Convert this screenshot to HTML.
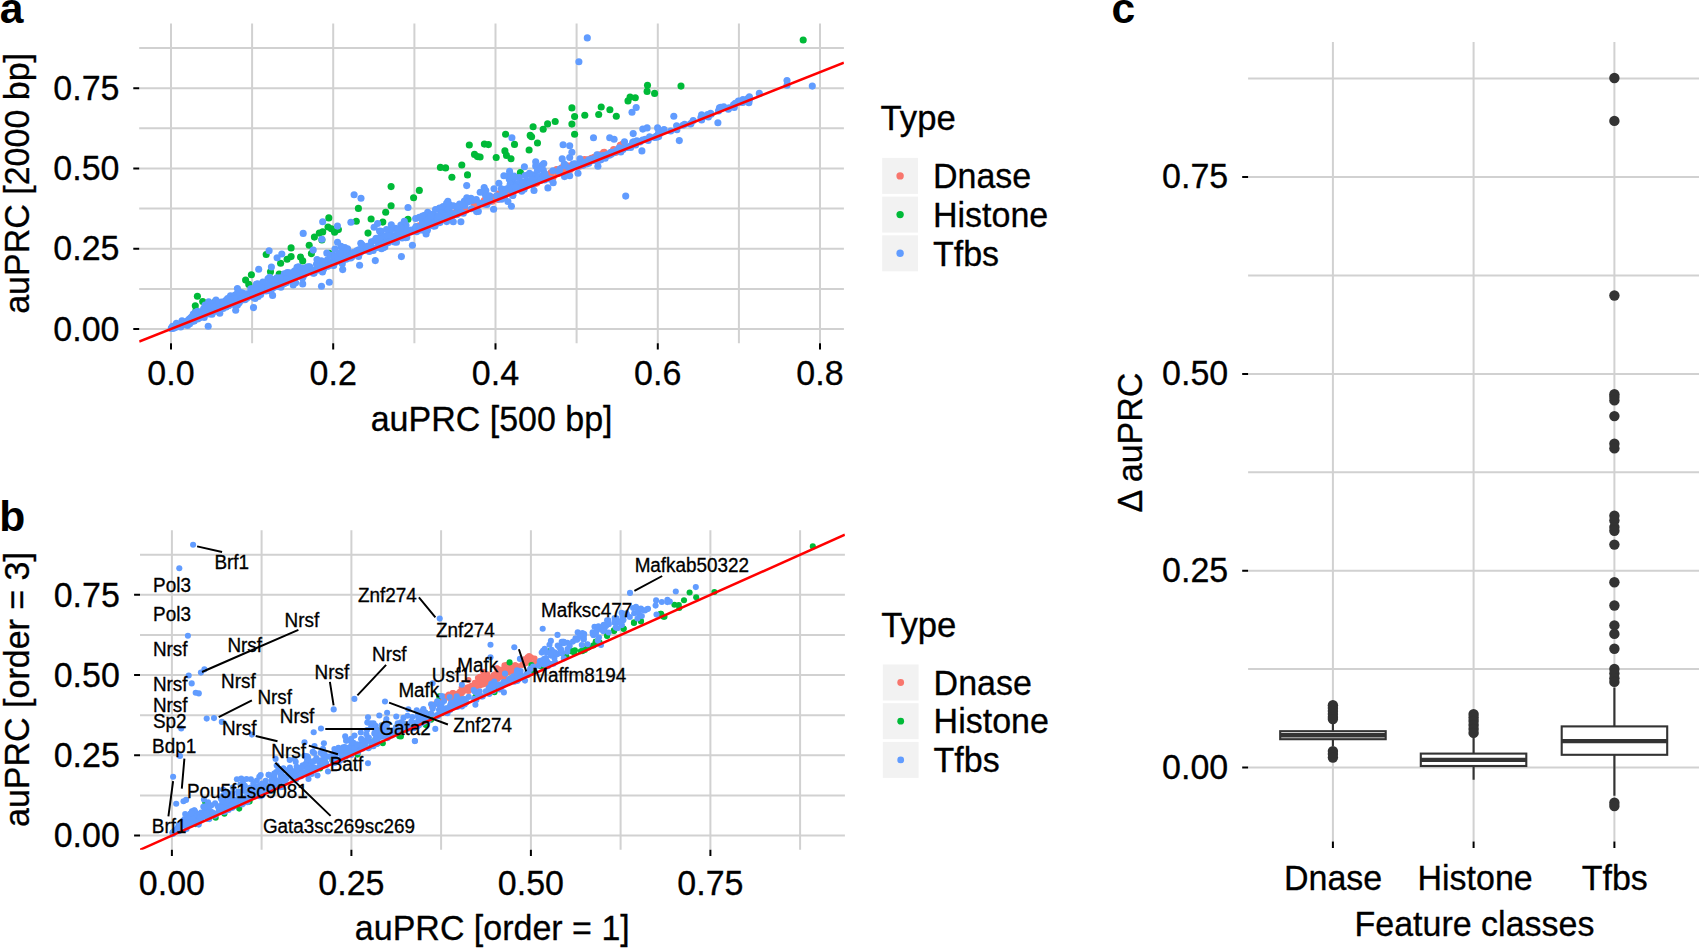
<!DOCTYPE html>
<html lang="en"><head><meta charset="utf-8"><title>Figure</title>
<style>html,body{margin:0;padding:0;background:#fff}svg{display:block}text{stroke:#000;stroke-width:.3px}.pl text{stroke:none}</style></head>
<body>
<svg width="1699" height="948" viewBox="0 0 1699 948" font-family="'Liberation Sans', Arial, Helvetica, sans-serif" font-size="34" fill="#000">
<rect width="1699" height="948" fill="#fff"/>
<path d="M139.2 329H843.9M139.2 288.9H843.9M139.2 248.7H843.9M139.2 208.6H843.9M139.2 168.5H843.9M139.2 128.3H843.9M139.2 88.2H843.9M139.2 48.1H843.9M171 23.6V343.2M252.1 23.6V343.2M333.2 23.6V343.2M414.4 23.6V343.2M495.5 23.6V343.2M576.6 23.6V343.2M657.8 23.6V343.2M738.9 23.6V343.2M820 23.6V343.2" stroke="#d1d1d1" stroke-width="2.0" fill="none"/>
<clipPath id="ca"><rect x="139.2" y="23.6" width="704.7" height="319.6"/></clipPath>
<g clip-path="url(#ca)">
<g fill="#F8766D">
<circle cx="502.7" cy="195.4" r="3.55"/><circle cx="504.4" cy="197.5" r="3.55"/><circle cx="534" cy="180.4" r="3.55"/><circle cx="531.4" cy="181.8" r="3.55"/><circle cx="561.9" cy="167.9" r="3.55"/><circle cx="567.1" cy="165.8" r="3.55"/><circle cx="556.6" cy="169.6" r="3.55"/><circle cx="572.3" cy="164.7" r="3.55"/><circle cx="588" cy="160" r="3.55"/><circle cx="591.4" cy="158.3" r="3.55"/><circle cx="603.6" cy="152.6" r="3.55"/><circle cx="621" cy="145.2" r="3.55"/><circle cx="546.7" cy="175.2" r="3.55"/><circle cx="498" cy="196.6" r="3.55"/><circle cx="620.3" cy="145.2" r="3.55"/><circle cx="475.5" cy="204.2" r="3.55"/><circle cx="444.8" cy="216.3" r="3.55"/><circle cx="586.5" cy="160.3" r="3.55"/><circle cx="452.5" cy="215.7" r="3.55"/><circle cx="492.9" cy="199" r="3.55"/><circle cx="529.9" cy="183" r="3.55"/><circle cx="457.8" cy="211.8" r="3.55"/><circle cx="557.9" cy="173.4" r="3.55"/><circle cx="537.9" cy="179.8" r="3.55"/><circle cx="510" cy="192" r="3.55"/><circle cx="561.8" cy="168.6" r="3.55"/><circle cx="465.9" cy="210.2" r="3.55"/><circle cx="599" cy="156.8" r="3.55"/><circle cx="568.2" cy="169.1" r="3.55"/><circle cx="439.3" cy="215.8" r="3.55"/><circle cx="502.6" cy="194.2" r="3.55"/><circle cx="517.5" cy="189.1" r="3.55"/><circle cx="422.6" cy="226.9" r="3.55"/><circle cx="535.2" cy="183.2" r="3.55"/><circle cx="599" cy="156.8" r="3.55"/><circle cx="539.7" cy="177.7" r="3.55"/><circle cx="536.7" cy="183.1" r="3.55"/><circle cx="613.6" cy="149.6" r="3.55"/><circle cx="514.4" cy="189.8" r="3.55"/><circle cx="562.3" cy="171" r="3.55"/><circle cx="550.9" cy="172.7" r="3.55"/><circle cx="474.4" cy="205.5" r="3.55"/><circle cx="495.7" cy="197.1" r="3.55"/><circle cx="511.8" cy="190.8" r="3.55"/><circle cx="449.8" cy="214.8" r="3.55"/><circle cx="576.4" cy="164.7" r="3.55"/><circle cx="441.7" cy="218.3" r="3.55"/><circle cx="598.2" cy="155.1" r="3.55"/><circle cx="431.4" cy="224" r="3.55"/><circle cx="600.7" cy="154.9" r="3.55"/><circle cx="587.2" cy="160.1" r="3.55"/><circle cx="502" cy="195.3" r="3.55"/><circle cx="490" cy="196.8" r="3.55"/><circle cx="446.2" cy="218.7" r="3.55"/><circle cx="451.5" cy="214.3" r="3.55"/><circle cx="516.7" cy="187.7" r="3.55"/><circle cx="538.6" cy="180" r="3.55"/><circle cx="502.7" cy="194.1" r="3.55"/><circle cx="492.3" cy="201.2" r="3.55"/><circle cx="560" cy="172.8" r="3.55"/><circle cx="523.1" cy="187.5" r="3.55"/><circle cx="425.8" cy="225.9" r="3.55"/><circle cx="604.1" cy="153.6" r="3.55"/><circle cx="582.7" cy="165.1" r="3.55"/><circle cx="497.1" cy="196.9" r="3.55"/><circle cx="548.2" cy="175.8" r="3.55"/><circle cx="427.5" cy="223.1" r="3.55"/><circle cx="448.6" cy="215.2" r="3.55"/><circle cx="486.1" cy="200.7" r="3.55"/><circle cx="446.3" cy="216.5" r="3.55"/><circle cx="435.8" cy="220.9" r="3.55"/><circle cx="598.8" cy="155.9" r="3.55"/><circle cx="543.9" cy="177.3" r="3.55"/><circle cx="487.6" cy="199.4" r="3.55"/><circle cx="491.2" cy="197" r="3.55"/><circle cx="623.8" cy="144.5" r="3.55"/><circle cx="512.7" cy="190.8" r="3.55"/><circle cx="435.9" cy="220.6" r="3.55"/><circle cx="486.6" cy="200.8" r="3.55"/><circle cx="448.4" cy="213.3" r="3.55"/><circle cx="419.2" cy="225.7" r="3.55"/><circle cx="445.3" cy="217.4" r="3.55"/><circle cx="528.9" cy="182.3" r="3.55"/><circle cx="620.8" cy="147.2" r="3.55"/><circle cx="596.5" cy="157.4" r="3.55"/><circle cx="491.7" cy="199.5" r="3.55"/><circle cx="449.6" cy="215" r="3.55"/><circle cx="578.7" cy="165.7" r="3.55"/><circle cx="483.9" cy="201.2" r="3.55"/><circle cx="622.1" cy="144.6" r="3.55"/><circle cx="594.2" cy="157.2" r="3.55"/><circle cx="570.4" cy="169.6" r="3.55"/><circle cx="462.2" cy="211.4" r="3.55"/><circle cx="420.5" cy="226.9" r="3.55"/><circle cx="420.3" cy="227" r="3.55"/><circle cx="560.4" cy="170.4" r="3.55"/><circle cx="616.1" cy="152.2" r="3.55"/><circle cx="622.8" cy="145.7" r="3.55"/><circle cx="615.8" cy="150" r="3.55"/><circle cx="462.2" cy="209.5" r="3.55"/><circle cx="455.9" cy="212.2" r="3.55"/><circle cx="604.3" cy="152.3" r="3.55"/><circle cx="591.6" cy="160.8" r="3.55"/><circle cx="583" cy="162.2" r="3.55"/><circle cx="432.3" cy="223.6" r="3.55"/><circle cx="579.4" cy="166.2" r="3.55"/><circle cx="572.6" cy="167.3" r="3.55"/><circle cx="580.8" cy="163.2" r="3.55"/><circle cx="484.5" cy="200.3" r="3.55"/><circle cx="497.9" cy="199.4" r="3.55"/><circle cx="499" cy="193.7" r="3.55"/><circle cx="450.2" cy="215.6" r="3.55"/><circle cx="441.2" cy="216.9" r="3.55"/><circle cx="584.5" cy="159.6" r="3.55"/><circle cx="445.2" cy="215.3" r="3.55"/><circle cx="553" cy="177.5" r="3.55"/><circle cx="488.3" cy="200.5" r="3.55"/><circle cx="417.4" cy="228.2" r="3.55"/><circle cx="619.2" cy="149" r="3.55"/><circle cx="611.3" cy="152.5" r="3.55"/><circle cx="505.9" cy="191.3" r="3.55"/><circle cx="458.9" cy="213.3" r="3.55"/>
</g>
<g fill="#00BA38">
<circle cx="197.4" cy="296.3" r="3.55"/><circle cx="202.7" cy="301.5" r="3.55"/><circle cx="195.3" cy="305.7" r="3.55"/><circle cx="215.7" cy="301" r="3.55"/><circle cx="205.3" cy="306.2" r="3.55"/><circle cx="196" cy="310.5" r="3.55"/><circle cx="245.6" cy="280.1" r="3.55"/><circle cx="251.4" cy="274.8" r="3.55"/><circle cx="248.8" cy="284.4" r="3.55"/><circle cx="266.2" cy="254.5" r="3.55"/><circle cx="270.5" cy="271.7" r="3.55"/><circle cx="279.2" cy="274" r="3.55"/><circle cx="280.6" cy="263.2" r="3.55"/><circle cx="287.1" cy="259.2" r="3.55"/><circle cx="291.1" cy="256.6" r="3.55"/><circle cx="291.1" cy="247.9" r="3.55"/><circle cx="300.5" cy="257.1" r="3.55"/><circle cx="302.7" cy="260.9" r="3.55"/><circle cx="309.2" cy="245.3" r="3.55"/><circle cx="311.4" cy="253.6" r="3.55"/><circle cx="314.4" cy="237.1" r="3.55"/><circle cx="319.3" cy="233.1" r="3.55"/><circle cx="322.7" cy="231.9" r="3.55"/><circle cx="321.9" cy="240" r="3.55"/><circle cx="328" cy="227" r="3.55"/><circle cx="328.8" cy="217.9" r="3.55"/><circle cx="331.4" cy="228.7" r="3.55"/><circle cx="334.6" cy="232.2" r="3.55"/><circle cx="338.4" cy="229.6" r="3.55"/><circle cx="329.2" cy="253.4" r="3.55"/><circle cx="341" cy="254" r="3.55"/><circle cx="356.3" cy="221.2" r="3.55"/><circle cx="358.4" cy="208.4" r="3.55"/><circle cx="368" cy="233.1" r="3.55"/><circle cx="371.1" cy="219" r="3.55"/><circle cx="382.8" cy="222.1" r="3.55"/><circle cx="385.7" cy="212.2" r="3.55"/><circle cx="391.1" cy="205.8" r="3.55"/><circle cx="391.1" cy="186.6" r="3.55"/><circle cx="413.6" cy="197.8" r="3.55"/><circle cx="408" cy="219.2" r="3.55"/><circle cx="419.3" cy="190.4" r="3.55"/><circle cx="440.4" cy="167.4" r="3.55"/><circle cx="445.6" cy="167.9" r="3.55"/><circle cx="451.9" cy="177.2" r="3.55"/><circle cx="461.8" cy="165" r="3.55"/><circle cx="467.5" cy="174.9" r="3.55"/><circle cx="469.3" cy="145" r="3.55"/><circle cx="474.5" cy="154.4" r="3.55"/><circle cx="477.4" cy="156.6" r="3.55"/><circle cx="480.1" cy="157" r="3.55"/><circle cx="484.4" cy="144.1" r="3.55"/><circle cx="488.4" cy="144.6" r="3.55"/><circle cx="496.2" cy="157.5" r="3.55"/><circle cx="504.9" cy="150.9" r="3.55"/><circle cx="506.5" cy="155.4" r="3.55"/><circle cx="511" cy="158.7" r="3.55"/><circle cx="505.6" cy="134.3" r="3.55"/><circle cx="514.5" cy="144.4" r="3.55"/><circle cx="520.4" cy="172.6" r="3.55"/><circle cx="529.1" cy="150" r="3.55"/><circle cx="530.2" cy="135.4" r="3.55"/><circle cx="531.6" cy="136.8" r="3.55"/><circle cx="533.1" cy="126.7" r="3.55"/><circle cx="537.5" cy="143" r="3.55"/><circle cx="543.2" cy="129.3" r="3.55"/><circle cx="547.6" cy="123.9" r="3.55"/><circle cx="555.2" cy="121.5" r="3.55"/><circle cx="571.9" cy="107.9" r="3.55"/><circle cx="574.6" cy="116.6" r="3.55"/><circle cx="571.9" cy="124.1" r="3.55"/><circle cx="574.6" cy="134.3" r="3.55"/><circle cx="584.8" cy="115.2" r="3.55"/><circle cx="598.7" cy="114.5" r="3.55"/><circle cx="601.2" cy="107" r="3.55"/><circle cx="609.9" cy="109.8" r="3.55"/><circle cx="616.3" cy="116.2" r="3.55"/><circle cx="628" cy="100.9" r="3.55"/><circle cx="630.1" cy="97.1" r="3.55"/><circle cx="635.3" cy="97.8" r="3.55"/><circle cx="647.5" cy="85.3" r="3.55"/><circle cx="647.1" cy="91.4" r="3.55"/><circle cx="654.6" cy="93.4" r="3.55"/><circle cx="803.2" cy="40" r="3.55"/><circle cx="681" cy="86.1" r="3.55"/><circle cx="208" cy="313.1" r="3.55"/><circle cx="237.2" cy="301" r="3.55"/><circle cx="226.9" cy="303.7" r="3.55"/><circle cx="184.3" cy="322.8" r="3.55"/><circle cx="182.5" cy="323.7" r="3.55"/><circle cx="185.3" cy="322.9" r="3.55"/><circle cx="217" cy="306.1" r="3.55"/><circle cx="190.2" cy="320.6" r="3.55"/>
</g>
<g fill="#619CFF">
<circle cx="191.4" cy="321.6" r="3.55"/><circle cx="244.8" cy="297.5" r="3.55"/><circle cx="205.1" cy="305" r="3.55"/><circle cx="235.8" cy="303.6" r="3.55"/><circle cx="197.4" cy="316.7" r="3.55"/><circle cx="212.2" cy="306.7" r="3.55"/><circle cx="212.5" cy="304.7" r="3.55"/><circle cx="242.1" cy="292.9" r="3.55"/><circle cx="176.9" cy="325.1" r="3.55"/><circle cx="249.5" cy="294" r="3.55"/><circle cx="251.3" cy="293.6" r="3.55"/><circle cx="172.6" cy="326.4" r="3.55"/><circle cx="221.6" cy="302.8" r="3.55"/><circle cx="181.5" cy="324" r="3.55"/><circle cx="217.3" cy="309.5" r="3.55"/><circle cx="236" cy="301.8" r="3.55"/><circle cx="207.8" cy="309.1" r="3.55"/><circle cx="184.1" cy="324.2" r="3.55"/><circle cx="232.6" cy="299.3" r="3.55"/><circle cx="172.2" cy="327.2" r="3.55"/><circle cx="246.8" cy="298.3" r="3.55"/><circle cx="212.1" cy="306.7" r="3.55"/><circle cx="228.3" cy="299.1" r="3.55"/><circle cx="231.1" cy="299.4" r="3.55"/><circle cx="241.6" cy="293.3" r="3.55"/><circle cx="207.2" cy="311.6" r="3.55"/><circle cx="196.1" cy="317.9" r="3.55"/><circle cx="192.4" cy="321.2" r="3.55"/><circle cx="218.5" cy="306.2" r="3.55"/><circle cx="197.5" cy="311.2" r="3.55"/><circle cx="243.4" cy="293.6" r="3.55"/><circle cx="238" cy="301.2" r="3.55"/><circle cx="189.7" cy="323.7" r="3.55"/><circle cx="226.2" cy="307" r="3.55"/><circle cx="211.8" cy="303.8" r="3.55"/><circle cx="192.5" cy="316.2" r="3.55"/><circle cx="209.9" cy="307.9" r="3.55"/><circle cx="191.6" cy="317.3" r="3.55"/><circle cx="175.9" cy="327.3" r="3.55"/><circle cx="208.7" cy="301.9" r="3.55"/><circle cx="237.5" cy="305.1" r="3.55"/><circle cx="181.8" cy="325.3" r="3.55"/><circle cx="171.3" cy="328.3" r="3.55"/><circle cx="239.2" cy="302.8" r="3.55"/><circle cx="252" cy="290.4" r="3.55"/><circle cx="238.7" cy="298.6" r="3.55"/><circle cx="212.5" cy="310.3" r="3.55"/><circle cx="215.6" cy="308.6" r="3.55"/><circle cx="194.2" cy="321" r="3.55"/><circle cx="231" cy="298.9" r="3.55"/><circle cx="184.6" cy="322.3" r="3.55"/><circle cx="182.3" cy="323.6" r="3.55"/><circle cx="217.2" cy="308.3" r="3.55"/><circle cx="193.5" cy="316.6" r="3.55"/><circle cx="203.4" cy="315.3" r="3.55"/><circle cx="228.6" cy="305.5" r="3.55"/><circle cx="249.9" cy="295.1" r="3.55"/><circle cx="229.6" cy="302.9" r="3.55"/><circle cx="174.2" cy="327.3" r="3.55"/><circle cx="176.7" cy="326.1" r="3.55"/><circle cx="219.8" cy="313.2" r="3.55"/><circle cx="209.6" cy="314" r="3.55"/><circle cx="211.4" cy="304.2" r="3.55"/><circle cx="173.8" cy="327.9" r="3.55"/><circle cx="235.7" cy="294.7" r="3.55"/><circle cx="189.7" cy="318.8" r="3.55"/><circle cx="211.2" cy="311.4" r="3.55"/><circle cx="202.9" cy="313.8" r="3.55"/><circle cx="175.9" cy="325.9" r="3.55"/><circle cx="197.7" cy="319" r="3.55"/><circle cx="201.3" cy="312.1" r="3.55"/><circle cx="187.8" cy="320.5" r="3.55"/><circle cx="175" cy="326.2" r="3.55"/><circle cx="236.9" cy="294" r="3.55"/><circle cx="248.7" cy="294.5" r="3.55"/><circle cx="232.3" cy="302.9" r="3.55"/><circle cx="205.9" cy="309.1" r="3.55"/><circle cx="233.7" cy="300.1" r="3.55"/><circle cx="234.5" cy="304.7" r="3.55"/><circle cx="215.8" cy="311.3" r="3.55"/><circle cx="192.5" cy="320.3" r="3.55"/><circle cx="225.7" cy="300.6" r="3.55"/><circle cx="239.2" cy="299.1" r="3.55"/><circle cx="190.9" cy="320.9" r="3.55"/><circle cx="203.1" cy="314.9" r="3.55"/><circle cx="237.4" cy="288.5" r="3.55"/><circle cx="180.7" cy="326.9" r="3.55"/><circle cx="207.4" cy="311.7" r="3.55"/><circle cx="188.7" cy="322.1" r="3.55"/><circle cx="187.5" cy="325.5" r="3.55"/><circle cx="196.3" cy="318" r="3.55"/><circle cx="215.6" cy="301.9" r="3.55"/><circle cx="204.2" cy="317.4" r="3.55"/><circle cx="251.9" cy="294.4" r="3.55"/><circle cx="171.5" cy="328.4" r="3.55"/><circle cx="194" cy="315.2" r="3.55"/><circle cx="236.3" cy="301.7" r="3.55"/><circle cx="221.3" cy="302" r="3.55"/><circle cx="213" cy="307.6" r="3.55"/><circle cx="216.6" cy="307.3" r="3.55"/><circle cx="205.1" cy="312.6" r="3.55"/><circle cx="221.2" cy="307.2" r="3.55"/><circle cx="208.2" cy="311.6" r="3.55"/><circle cx="206.9" cy="311.7" r="3.55"/><circle cx="230.5" cy="295.8" r="3.55"/><circle cx="182" cy="320.8" r="3.55"/><circle cx="186.7" cy="321.6" r="3.55"/><circle cx="193.3" cy="314.1" r="3.55"/><circle cx="212" cy="314.3" r="3.55"/><circle cx="216" cy="300.1" r="3.55"/><circle cx="222.1" cy="305.5" r="3.55"/><circle cx="233" cy="302.7" r="3.55"/><circle cx="218.5" cy="302.7" r="3.55"/><circle cx="243.7" cy="296.8" r="3.55"/><circle cx="189.2" cy="319.4" r="3.55"/><circle cx="247" cy="293.7" r="3.55"/><circle cx="241.7" cy="295.5" r="3.55"/><circle cx="207" cy="306.8" r="3.55"/><circle cx="203.9" cy="310.2" r="3.55"/><circle cx="223" cy="302.2" r="3.55"/><circle cx="234.5" cy="295.5" r="3.55"/><circle cx="179.5" cy="325.6" r="3.55"/><circle cx="228.7" cy="305.5" r="3.55"/><circle cx="223.1" cy="308.4" r="3.55"/><circle cx="231.5" cy="300.1" r="3.55"/><circle cx="227.2" cy="301.7" r="3.55"/><circle cx="227.6" cy="298.6" r="3.55"/><circle cx="244.9" cy="299.8" r="3.55"/><circle cx="173.3" cy="328.3" r="3.55"/><circle cx="218.9" cy="310.1" r="3.55"/><circle cx="176.4" cy="323.4" r="3.55"/><circle cx="236.9" cy="297.8" r="3.55"/><circle cx="179.1" cy="326.1" r="3.55"/><circle cx="191.8" cy="320" r="3.55"/><circle cx="249.2" cy="296.1" r="3.55"/><circle cx="233.7" cy="301.3" r="3.55"/><circle cx="240.9" cy="300.4" r="3.55"/><circle cx="210.8" cy="306.8" r="3.55"/><circle cx="199.2" cy="317.9" r="3.55"/><circle cx="234.9" cy="298.7" r="3.55"/><circle cx="203.6" cy="308.9" r="3.55"/><circle cx="192.4" cy="318.2" r="3.55"/><circle cx="214.1" cy="306.5" r="3.55"/><circle cx="239.4" cy="291.9" r="3.55"/><circle cx="233.7" cy="298.9" r="3.55"/><circle cx="195.5" cy="312.2" r="3.55"/><circle cx="191.1" cy="317.5" r="3.55"/><circle cx="230.1" cy="300" r="3.55"/><circle cx="250.8" cy="288.9" r="3.55"/><circle cx="187.7" cy="322.2" r="3.55"/><circle cx="319.6" cy="266.1" r="3.55"/><circle cx="324.3" cy="262.5" r="3.55"/><circle cx="322.4" cy="264.1" r="3.55"/><circle cx="313.3" cy="273.2" r="3.55"/><circle cx="313.4" cy="272.4" r="3.55"/><circle cx="342.7" cy="260" r="3.55"/><circle cx="299.8" cy="275.9" r="3.55"/><circle cx="308.1" cy="269.6" r="3.55"/><circle cx="332.8" cy="261.2" r="3.55"/><circle cx="348" cy="254.3" r="3.55"/><circle cx="253.4" cy="294.6" r="3.55"/><circle cx="324.3" cy="265.2" r="3.55"/><circle cx="264.7" cy="285.7" r="3.55"/><circle cx="346" cy="259.2" r="3.55"/><circle cx="297.7" cy="274.6" r="3.55"/><circle cx="278.2" cy="280.8" r="3.55"/><circle cx="252.4" cy="288.9" r="3.55"/><circle cx="314.2" cy="270.2" r="3.55"/><circle cx="257.7" cy="288.6" r="3.55"/><circle cx="344.8" cy="247.6" r="3.55"/><circle cx="274.9" cy="286.5" r="3.55"/><circle cx="333.8" cy="265.1" r="3.55"/><circle cx="294.8" cy="273.3" r="3.55"/><circle cx="266.2" cy="286.9" r="3.55"/><circle cx="252.8" cy="289.2" r="3.55"/><circle cx="314.1" cy="272.9" r="3.55"/><circle cx="284.3" cy="273.7" r="3.55"/><circle cx="336" cy="261.5" r="3.55"/><circle cx="272.6" cy="286.3" r="3.55"/><circle cx="291.4" cy="274.1" r="3.55"/><circle cx="315.8" cy="269.6" r="3.55"/><circle cx="322.5" cy="270.6" r="3.55"/><circle cx="340.7" cy="258.1" r="3.55"/><circle cx="272.8" cy="280.1" r="3.55"/><circle cx="327.5" cy="265.9" r="3.55"/><circle cx="293.2" cy="277.9" r="3.55"/><circle cx="257.4" cy="288.4" r="3.55"/><circle cx="295.6" cy="282.7" r="3.55"/><circle cx="347.6" cy="248.8" r="3.55"/><circle cx="253.6" cy="297" r="3.55"/><circle cx="260.7" cy="294.5" r="3.55"/><circle cx="327.5" cy="259.7" r="3.55"/><circle cx="297" cy="267.3" r="3.55"/><circle cx="335.9" cy="258.5" r="3.55"/><circle cx="294.8" cy="277.1" r="3.55"/><circle cx="292.8" cy="279.7" r="3.55"/><circle cx="258" cy="292.6" r="3.55"/><circle cx="338.6" cy="258.5" r="3.55"/><circle cx="330.7" cy="263.9" r="3.55"/><circle cx="333.2" cy="255.4" r="3.55"/><circle cx="335" cy="249.1" r="3.55"/><circle cx="325.2" cy="262.1" r="3.55"/><circle cx="276.9" cy="277.8" r="3.55"/><circle cx="274.8" cy="284.6" r="3.55"/><circle cx="270.5" cy="290.9" r="3.55"/><circle cx="302.5" cy="277.9" r="3.55"/><circle cx="302.7" cy="273.2" r="3.55"/><circle cx="326.8" cy="253.1" r="3.55"/><circle cx="271.7" cy="288.4" r="3.55"/><circle cx="345.5" cy="258.3" r="3.55"/><circle cx="317.3" cy="262.9" r="3.55"/><circle cx="255.9" cy="296.1" r="3.55"/><circle cx="333.6" cy="265.4" r="3.55"/><circle cx="266.2" cy="285" r="3.55"/><circle cx="309.7" cy="266.9" r="3.55"/><circle cx="266.1" cy="291" r="3.55"/><circle cx="336.5" cy="261.6" r="3.55"/><circle cx="298.6" cy="266.9" r="3.55"/><circle cx="321.6" cy="263.3" r="3.55"/><circle cx="284.7" cy="279.7" r="3.55"/><circle cx="263.2" cy="289.8" r="3.55"/><circle cx="348.6" cy="258.1" r="3.55"/><circle cx="347.4" cy="257.7" r="3.55"/><circle cx="303.4" cy="275.9" r="3.55"/><circle cx="269.7" cy="277.2" r="3.55"/><circle cx="300.4" cy="275.4" r="3.55"/><circle cx="331.1" cy="255.3" r="3.55"/><circle cx="257.5" cy="283.9" r="3.55"/><circle cx="340.7" cy="254" r="3.55"/><circle cx="268" cy="278.8" r="3.55"/><circle cx="295.5" cy="275.8" r="3.55"/><circle cx="321.4" cy="260.9" r="3.55"/><circle cx="345" cy="251.5" r="3.55"/><circle cx="273.9" cy="285.5" r="3.55"/><circle cx="255.1" cy="298.5" r="3.55"/><circle cx="262.1" cy="287.1" r="3.55"/><circle cx="291.6" cy="279.8" r="3.55"/><circle cx="343.4" cy="257.4" r="3.55"/><circle cx="290.6" cy="275.2" r="3.55"/><circle cx="341" cy="246.4" r="3.55"/><circle cx="345.4" cy="253.2" r="3.55"/><circle cx="301.3" cy="268.4" r="3.55"/><circle cx="318.2" cy="269.9" r="3.55"/><circle cx="280.1" cy="278.4" r="3.55"/><circle cx="345.2" cy="253.9" r="3.55"/><circle cx="264.9" cy="287.8" r="3.55"/><circle cx="260.7" cy="290.1" r="3.55"/><circle cx="321.3" cy="266.8" r="3.55"/><circle cx="282.4" cy="283.7" r="3.55"/><circle cx="286.5" cy="276.1" r="3.55"/><circle cx="280.9" cy="287.2" r="3.55"/><circle cx="323.7" cy="265.4" r="3.55"/><circle cx="286.4" cy="282.3" r="3.55"/><circle cx="324.5" cy="262.5" r="3.55"/><circle cx="341.2" cy="252" r="3.55"/><circle cx="345.8" cy="257.3" r="3.55"/><circle cx="311.2" cy="270.3" r="3.55"/><circle cx="306.2" cy="272.9" r="3.55"/><circle cx="300.8" cy="273.6" r="3.55"/><circle cx="260.7" cy="284.2" r="3.55"/><circle cx="253.2" cy="297.2" r="3.55"/><circle cx="349.3" cy="256.4" r="3.55"/><circle cx="286.9" cy="278.6" r="3.55"/><circle cx="306.8" cy="267.9" r="3.55"/><circle cx="349.1" cy="253" r="3.55"/><circle cx="262.9" cy="282.1" r="3.55"/><circle cx="301.9" cy="270.1" r="3.55"/><circle cx="348.9" cy="253.6" r="3.55"/><circle cx="252.5" cy="294.7" r="3.55"/><circle cx="306" cy="272.2" r="3.55"/><circle cx="308" cy="266.9" r="3.55"/><circle cx="268.7" cy="286.2" r="3.55"/><circle cx="258.2" cy="296.5" r="3.55"/><circle cx="278.1" cy="286.4" r="3.55"/><circle cx="295.9" cy="274" r="3.55"/><circle cx="335.3" cy="261" r="3.55"/><circle cx="300.4" cy="270.7" r="3.55"/><circle cx="329.3" cy="264.8" r="3.55"/><circle cx="346.7" cy="253.8" r="3.55"/><circle cx="258.5" cy="292.8" r="3.55"/><circle cx="270.7" cy="281.6" r="3.55"/><circle cx="320.8" cy="269" r="3.55"/><circle cx="330.5" cy="265.1" r="3.55"/><circle cx="344.7" cy="254.8" r="3.55"/><circle cx="320.9" cy="268.2" r="3.55"/><circle cx="272.8" cy="280.1" r="3.55"/><circle cx="289.6" cy="272.8" r="3.55"/><circle cx="335" cy="256.3" r="3.55"/><circle cx="287.3" cy="272.5" r="3.55"/><circle cx="321.9" cy="268.9" r="3.55"/><circle cx="338.1" cy="254.8" r="3.55"/><circle cx="276.3" cy="278.7" r="3.55"/><circle cx="323.6" cy="269.1" r="3.55"/><circle cx="282.4" cy="281.6" r="3.55"/><circle cx="321.9" cy="265.7" r="3.55"/><circle cx="327.7" cy="266.2" r="3.55"/><circle cx="272.6" cy="288.3" r="3.55"/><circle cx="260.9" cy="288" r="3.55"/><circle cx="257.4" cy="286.3" r="3.55"/><circle cx="256.4" cy="284.4" r="3.55"/><circle cx="346.5" cy="250.5" r="3.55"/><circle cx="271.7" cy="287" r="3.55"/><circle cx="275.3" cy="286.7" r="3.55"/><circle cx="338.2" cy="260.4" r="3.55"/><circle cx="305.5" cy="267.9" r="3.55"/><circle cx="280.3" cy="277.8" r="3.55"/><circle cx="271.3" cy="279.4" r="3.55"/><circle cx="268.5" cy="288.5" r="3.55"/><circle cx="294.4" cy="271.1" r="3.55"/><circle cx="343.2" cy="252.3" r="3.55"/><circle cx="254.8" cy="287.8" r="3.55"/><circle cx="342.3" cy="263.8" r="3.55"/><circle cx="283.9" cy="283.8" r="3.55"/><circle cx="333.1" cy="262.5" r="3.55"/><circle cx="340.2" cy="253" r="3.55"/><circle cx="268.1" cy="285.4" r="3.55"/><circle cx="322.5" cy="272" r="3.55"/><circle cx="316.5" cy="264.3" r="3.55"/><circle cx="317" cy="259.5" r="3.55"/><circle cx="286" cy="282.7" r="3.55"/><circle cx="443.1" cy="206.6" r="3.55"/><circle cx="405.1" cy="227.1" r="3.55"/><circle cx="352.2" cy="256.5" r="3.55"/><circle cx="406" cy="233.1" r="3.55"/><circle cx="360.6" cy="252.3" r="3.55"/><circle cx="358.7" cy="249.7" r="3.55"/><circle cx="371.5" cy="241.9" r="3.55"/><circle cx="356.6" cy="250.8" r="3.55"/><circle cx="423.2" cy="228.2" r="3.55"/><circle cx="404.3" cy="221.3" r="3.55"/><circle cx="370.2" cy="248.9" r="3.55"/><circle cx="404.3" cy="236.5" r="3.55"/><circle cx="415.7" cy="218.5" r="3.55"/><circle cx="427.6" cy="226.6" r="3.55"/><circle cx="368.3" cy="246.2" r="3.55"/><circle cx="427.4" cy="224.4" r="3.55"/><circle cx="386.5" cy="241.8" r="3.55"/><circle cx="350.8" cy="258" r="3.55"/><circle cx="427.4" cy="230.2" r="3.55"/><circle cx="364.9" cy="250.3" r="3.55"/><circle cx="406.8" cy="237.4" r="3.55"/><circle cx="383.9" cy="247" r="3.55"/><circle cx="394.2" cy="239.6" r="3.55"/><circle cx="404.9" cy="230.8" r="3.55"/><circle cx="434.4" cy="215.4" r="3.55"/><circle cx="434.4" cy="220.7" r="3.55"/><circle cx="411.3" cy="230" r="3.55"/><circle cx="445.7" cy="210.1" r="3.55"/><circle cx="383.5" cy="236.9" r="3.55"/><circle cx="379.5" cy="231.1" r="3.55"/><circle cx="406" cy="225.2" r="3.55"/><circle cx="351.7" cy="256.4" r="3.55"/><circle cx="388.4" cy="242.6" r="3.55"/><circle cx="443.2" cy="214.7" r="3.55"/><circle cx="382.7" cy="246.8" r="3.55"/><circle cx="370.1" cy="250.6" r="3.55"/><circle cx="415.6" cy="228.8" r="3.55"/><circle cx="397.6" cy="232.6" r="3.55"/><circle cx="439.6" cy="208" r="3.55"/><circle cx="358.6" cy="256.5" r="3.55"/><circle cx="401.9" cy="233.2" r="3.55"/><circle cx="374.6" cy="240.5" r="3.55"/><circle cx="424.7" cy="215.4" r="3.55"/><circle cx="384.8" cy="247.1" r="3.55"/><circle cx="441" cy="213.3" r="3.55"/><circle cx="352.3" cy="253.6" r="3.55"/><circle cx="381" cy="235.6" r="3.55"/><circle cx="410.5" cy="232" r="3.55"/><circle cx="372" cy="247.7" r="3.55"/><circle cx="404.9" cy="236.6" r="3.55"/><circle cx="377" cy="247.4" r="3.55"/><circle cx="435.4" cy="220.9" r="3.55"/><circle cx="433.5" cy="219.5" r="3.55"/><circle cx="438.9" cy="208.9" r="3.55"/><circle cx="416.6" cy="231.7" r="3.55"/><circle cx="445.9" cy="211.5" r="3.55"/><circle cx="362.7" cy="250.4" r="3.55"/><circle cx="360.4" cy="249.5" r="3.55"/><circle cx="435.5" cy="209.5" r="3.55"/><circle cx="399" cy="235.7" r="3.55"/><circle cx="402.4" cy="233.7" r="3.55"/><circle cx="444.2" cy="214.1" r="3.55"/><circle cx="446.7" cy="221.6" r="3.55"/><circle cx="360.8" cy="243.2" r="3.55"/><circle cx="412.4" cy="231.3" r="3.55"/><circle cx="446.3" cy="219.3" r="3.55"/><circle cx="418.8" cy="228.4" r="3.55"/><circle cx="402.3" cy="231.8" r="3.55"/><circle cx="395.5" cy="228.3" r="3.55"/><circle cx="400.9" cy="225.1" r="3.55"/><circle cx="394.3" cy="236.2" r="3.55"/><circle cx="430.5" cy="220.9" r="3.55"/><circle cx="427.7" cy="212.4" r="3.55"/><circle cx="393.2" cy="237.4" r="3.55"/><circle cx="400.2" cy="234" r="3.55"/><circle cx="405" cy="237.3" r="3.55"/><circle cx="381" cy="238.3" r="3.55"/><circle cx="390.7" cy="230.5" r="3.55"/><circle cx="392.6" cy="237.1" r="3.55"/><circle cx="383.8" cy="241.7" r="3.55"/><circle cx="381.5" cy="248.7" r="3.55"/><circle cx="423.2" cy="230.2" r="3.55"/><circle cx="431.2" cy="220.1" r="3.55"/><circle cx="421.6" cy="228.7" r="3.55"/><circle cx="424.4" cy="229.9" r="3.55"/><circle cx="396.5" cy="242.2" r="3.55"/><circle cx="446.6" cy="203.3" r="3.55"/><circle cx="445.7" cy="215.7" r="3.55"/><circle cx="433.1" cy="218.3" r="3.55"/><circle cx="427.5" cy="217.7" r="3.55"/><circle cx="406.3" cy="229.1" r="3.55"/><circle cx="380.1" cy="241" r="3.55"/><circle cx="376.1" cy="238.4" r="3.55"/><circle cx="435" cy="226" r="3.55"/><circle cx="433.5" cy="226.1" r="3.55"/><circle cx="398" cy="229.2" r="3.55"/><circle cx="431.1" cy="220.9" r="3.55"/><circle cx="442" cy="212.6" r="3.55"/><circle cx="416.2" cy="226.6" r="3.55"/><circle cx="381.1" cy="231.2" r="3.55"/><circle cx="386.5" cy="238.6" r="3.55"/><circle cx="391.3" cy="224.9" r="3.55"/><circle cx="422.5" cy="216" r="3.55"/><circle cx="402.1" cy="238" r="3.55"/><circle cx="431.8" cy="214.2" r="3.55"/><circle cx="441.4" cy="215.9" r="3.55"/><circle cx="366.9" cy="249" r="3.55"/><circle cx="394.4" cy="241.9" r="3.55"/><circle cx="362.3" cy="245" r="3.55"/><circle cx="441.1" cy="213.3" r="3.55"/><circle cx="435.1" cy="224.9" r="3.55"/><circle cx="401.6" cy="228" r="3.55"/><circle cx="369.3" cy="251.5" r="3.55"/><circle cx="422.5" cy="222.2" r="3.55"/><circle cx="399.9" cy="229.7" r="3.55"/><circle cx="425.8" cy="224.6" r="3.55"/><circle cx="428.8" cy="219.4" r="3.55"/><circle cx="389.6" cy="235.2" r="3.55"/><circle cx="415.6" cy="227.9" r="3.55"/><circle cx="444.5" cy="216.4" r="3.55"/><circle cx="422.6" cy="222.3" r="3.55"/><circle cx="419.3" cy="230.2" r="3.55"/><circle cx="437.6" cy="219.1" r="3.55"/><circle cx="425.8" cy="222.1" r="3.55"/><circle cx="394.1" cy="239.3" r="3.55"/><circle cx="416" cy="231.3" r="3.55"/><circle cx="382.5" cy="236.1" r="3.55"/><circle cx="390.2" cy="231.4" r="3.55"/><circle cx="383.9" cy="241.9" r="3.55"/><circle cx="428" cy="220.1" r="3.55"/><circle cx="367.4" cy="246.3" r="3.55"/><circle cx="436.5" cy="216.6" r="3.55"/><circle cx="393.7" cy="239" r="3.55"/><circle cx="439.9" cy="222.6" r="3.55"/><circle cx="384.7" cy="236.3" r="3.55"/><circle cx="398" cy="231.1" r="3.55"/><circle cx="416" cy="228.1" r="3.55"/><circle cx="352.9" cy="252.5" r="3.55"/><circle cx="405.6" cy="237.8" r="3.55"/><circle cx="377.8" cy="241.6" r="3.55"/><circle cx="386.5" cy="229.6" r="3.55"/><circle cx="383.3" cy="247.5" r="3.55"/><circle cx="379.8" cy="245.8" r="3.55"/><circle cx="379.6" cy="238.7" r="3.55"/><circle cx="387.8" cy="235.5" r="3.55"/><circle cx="431" cy="216.3" r="3.55"/><circle cx="423.2" cy="225.4" r="3.55"/><circle cx="438.8" cy="216.3" r="3.55"/><circle cx="424.6" cy="228.5" r="3.55"/><circle cx="373.2" cy="250.4" r="3.55"/><circle cx="487" cy="204.5" r="3.55"/><circle cx="519.1" cy="187.4" r="3.55"/><circle cx="464.9" cy="205.4" r="3.55"/><circle cx="529.8" cy="174.4" r="3.55"/><circle cx="473.5" cy="200.3" r="3.55"/><circle cx="534.3" cy="174.8" r="3.55"/><circle cx="459.6" cy="204.1" r="3.55"/><circle cx="527.1" cy="180.8" r="3.55"/><circle cx="512.6" cy="181.7" r="3.55"/><circle cx="508.1" cy="188.5" r="3.55"/><circle cx="500.8" cy="195.5" r="3.55"/><circle cx="524.1" cy="189.3" r="3.55"/><circle cx="449.8" cy="205" r="3.55"/><circle cx="485.8" cy="195.7" r="3.55"/><circle cx="543.8" cy="163.6" r="3.55"/><circle cx="459.8" cy="210.3" r="3.55"/><circle cx="480.1" cy="203.3" r="3.55"/><circle cx="489.5" cy="199.8" r="3.55"/><circle cx="501.4" cy="188.7" r="3.55"/><circle cx="516.9" cy="185.6" r="3.55"/><circle cx="517.1" cy="183.6" r="3.55"/><circle cx="476.6" cy="211.6" r="3.55"/><circle cx="525.1" cy="175.6" r="3.55"/><circle cx="543.3" cy="170.3" r="3.55"/><circle cx="501.7" cy="199.2" r="3.55"/><circle cx="484.2" cy="187.5" r="3.55"/><circle cx="483.7" cy="204" r="3.55"/><circle cx="498.8" cy="198.9" r="3.55"/><circle cx="494" cy="188.8" r="3.55"/><circle cx="504.4" cy="195.4" r="3.55"/><circle cx="508.8" cy="175.6" r="3.55"/><circle cx="485.8" cy="190.5" r="3.55"/><circle cx="514.2" cy="177.4" r="3.55"/><circle cx="485" cy="193.8" r="3.55"/><circle cx="450.6" cy="212.3" r="3.55"/><circle cx="512.2" cy="189" r="3.55"/><circle cx="457.1" cy="207.9" r="3.55"/><circle cx="507.2" cy="189.3" r="3.55"/><circle cx="485.5" cy="203.9" r="3.55"/><circle cx="458.7" cy="206.7" r="3.55"/><circle cx="541.9" cy="165.2" r="3.55"/><circle cx="456.7" cy="214.7" r="3.55"/><circle cx="521.7" cy="191.3" r="3.55"/><circle cx="506.3" cy="189.1" r="3.55"/><circle cx="535.7" cy="161.7" r="3.55"/><circle cx="532.3" cy="184.9" r="3.55"/><circle cx="471.4" cy="208.8" r="3.55"/><circle cx="510.5" cy="182" r="3.55"/><circle cx="471.1" cy="200.6" r="3.55"/><circle cx="521.8" cy="182" r="3.55"/><circle cx="457" cy="206.6" r="3.55"/><circle cx="510.1" cy="184.5" r="3.55"/><circle cx="514" cy="187.8" r="3.55"/><circle cx="489.5" cy="195.9" r="3.55"/><circle cx="471" cy="198.3" r="3.55"/><circle cx="510.7" cy="184.7" r="3.55"/><circle cx="453.3" cy="221.7" r="3.55"/><circle cx="513.8" cy="186" r="3.55"/><circle cx="476.3" cy="199.6" r="3.55"/><circle cx="480.2" cy="192.2" r="3.55"/><circle cx="447.8" cy="216.3" r="3.55"/><circle cx="464.4" cy="201.1" r="3.55"/><circle cx="448.3" cy="209.1" r="3.55"/><circle cx="483.9" cy="203.5" r="3.55"/><circle cx="509.3" cy="179.3" r="3.55"/><circle cx="449.7" cy="213.8" r="3.55"/><circle cx="455.9" cy="214" r="3.55"/><circle cx="453.4" cy="205.8" r="3.55"/><circle cx="519.3" cy="177.5" r="3.55"/><circle cx="463.4" cy="213.2" r="3.55"/><circle cx="466.8" cy="197.8" r="3.55"/><circle cx="447.9" cy="201.4" r="3.55"/><circle cx="518.9" cy="184" r="3.55"/><circle cx="525.1" cy="184" r="3.55"/><circle cx="489.6" cy="201.6" r="3.55"/><circle cx="512.9" cy="195.2" r="3.55"/><circle cx="496.6" cy="195.8" r="3.55"/><circle cx="540.4" cy="176.5" r="3.55"/><circle cx="449.1" cy="217.3" r="3.55"/><circle cx="516.1" cy="187" r="3.55"/><circle cx="461.3" cy="212.5" r="3.55"/><circle cx="463.1" cy="204" r="3.55"/><circle cx="511.2" cy="176.9" r="3.55"/><circle cx="535.9" cy="179.8" r="3.55"/><circle cx="529.5" cy="173.2" r="3.55"/><circle cx="503.9" cy="175.8" r="3.55"/><circle cx="502.3" cy="195.2" r="3.55"/><circle cx="512.8" cy="192.8" r="3.55"/><circle cx="512.3" cy="188" r="3.55"/><circle cx="523.3" cy="182.7" r="3.55"/><circle cx="534.4" cy="181" r="3.55"/><circle cx="468.5" cy="201.7" r="3.55"/><circle cx="486.4" cy="200.7" r="3.55"/><circle cx="515.4" cy="187.1" r="3.55"/><circle cx="512.6" cy="195.5" r="3.55"/><circle cx="540.9" cy="180.3" r="3.55"/><circle cx="526.8" cy="184.3" r="3.55"/><circle cx="498.9" cy="183.2" r="3.55"/><circle cx="447.2" cy="218" r="3.55"/><circle cx="537.8" cy="177.2" r="3.55"/><circle cx="559" cy="171.6" r="3.55"/><circle cx="533.4" cy="180.9" r="3.55"/><circle cx="538.5" cy="176.7" r="3.55"/><circle cx="573.2" cy="164" r="3.55"/><circle cx="545" cy="176" r="3.55"/><circle cx="550.1" cy="179.1" r="3.55"/><circle cx="559.9" cy="169" r="3.55"/><circle cx="564.3" cy="164" r="3.55"/><circle cx="531.3" cy="180.3" r="3.55"/><circle cx="553" cy="170.7" r="3.55"/><circle cx="574.5" cy="164.9" r="3.55"/><circle cx="580" cy="158.7" r="3.55"/><circle cx="534.1" cy="182.9" r="3.55"/><circle cx="573.9" cy="166.6" r="3.55"/><circle cx="580.1" cy="162.7" r="3.55"/><circle cx="534" cy="183.3" r="3.55"/><circle cx="571" cy="168.1" r="3.55"/><circle cx="540.5" cy="179.5" r="3.55"/><circle cx="565.8" cy="166.1" r="3.55"/><circle cx="543.6" cy="175.4" r="3.55"/><circle cx="544.7" cy="180" r="3.55"/><circle cx="575" cy="163.8" r="3.55"/><circle cx="530" cy="183.4" r="3.55"/><circle cx="546.8" cy="178.2" r="3.55"/><circle cx="569.5" cy="168.7" r="3.55"/><circle cx="586.5" cy="164" r="3.55"/><circle cx="541.2" cy="180" r="3.55"/><circle cx="544.9" cy="173.7" r="3.55"/><circle cx="604.1" cy="155.6" r="3.55"/><circle cx="720.9" cy="107.3" r="3.55"/><circle cx="701.6" cy="114.9" r="3.55"/><circle cx="630.6" cy="146.1" r="3.55"/><circle cx="631.6" cy="145.2" r="3.55"/><circle cx="682.9" cy="125.3" r="3.55"/><circle cx="592.2" cy="159.1" r="3.55"/><circle cx="603" cy="155.9" r="3.55"/><circle cx="739.1" cy="101.4" r="3.55"/><circle cx="611.1" cy="154.3" r="3.55"/><circle cx="597.5" cy="160.4" r="3.55"/><circle cx="639.9" cy="141.9" r="3.55"/><circle cx="701.6" cy="119.9" r="3.55"/><circle cx="595.2" cy="160" r="3.55"/><circle cx="588.8" cy="163.3" r="3.55"/><circle cx="620.7" cy="148.3" r="3.55"/><circle cx="693.2" cy="120.5" r="3.55"/><circle cx="659.8" cy="132.7" r="3.55"/><circle cx="700.9" cy="117.5" r="3.55"/><circle cx="654.6" cy="137.4" r="3.55"/><circle cx="738.4" cy="101" r="3.55"/><circle cx="594.9" cy="160.4" r="3.55"/><circle cx="656.1" cy="136.2" r="3.55"/><circle cx="583.1" cy="165.2" r="3.55"/><circle cx="747.8" cy="98.5" r="3.55"/><circle cx="657.9" cy="135.1" r="3.55"/><circle cx="684.7" cy="124.3" r="3.55"/><circle cx="707.6" cy="114.5" r="3.55"/><circle cx="711.1" cy="114.2" r="3.55"/><circle cx="645.3" cy="139.4" r="3.55"/><circle cx="593" cy="159.9" r="3.55"/><circle cx="626.9" cy="147.1" r="3.55"/><circle cx="710.6" cy="113.4" r="3.55"/><circle cx="588.9" cy="161.5" r="3.55"/><circle cx="605.2" cy="158.2" r="3.55"/><circle cx="606.1" cy="155.7" r="3.55"/><circle cx="606.9" cy="154.7" r="3.55"/><circle cx="635.6" cy="145" r="3.55"/><circle cx="598.1" cy="158.2" r="3.55"/><circle cx="597" cy="154.9" r="3.55"/><circle cx="621.9" cy="149.1" r="3.55"/><circle cx="734.3" cy="107.5" r="3.55"/><circle cx="659.1" cy="132.3" r="3.55"/><circle cx="627" cy="147.5" r="3.55"/><circle cx="657.8" cy="135.2" r="3.55"/><circle cx="599.2" cy="160.2" r="3.55"/><circle cx="610.4" cy="152.8" r="3.55"/><circle cx="718.5" cy="110.9" r="3.55"/><circle cx="635.7" cy="143.5" r="3.55"/><circle cx="658.5" cy="133.4" r="3.55"/><circle cx="749.4" cy="96.8" r="3.55"/><circle cx="632.7" cy="142.4" r="3.55"/><circle cx="606.8" cy="155" r="3.55"/><circle cx="609.3" cy="155.2" r="3.55"/><circle cx="649.6" cy="136.7" r="3.55"/><circle cx="676.9" cy="129.8" r="3.55"/><circle cx="578.4" cy="166" r="3.55"/><circle cx="733.5" cy="106.7" r="3.55"/><circle cx="742.7" cy="102.4" r="3.55"/><circle cx="719.5" cy="107.8" r="3.55"/><circle cx="623" cy="149.4" r="3.55"/><circle cx="638.2" cy="141.5" r="3.55"/><circle cx="642.6" cy="140" r="3.55"/><circle cx="735.3" cy="103.4" r="3.55"/><circle cx="648.2" cy="140.5" r="3.55"/><circle cx="708.4" cy="117" r="3.55"/><circle cx="619.2" cy="147.7" r="3.55"/><circle cx="749.4" cy="99.7" r="3.55"/><circle cx="703.6" cy="116.5" r="3.55"/><circle cx="620.8" cy="152" r="3.55"/><circle cx="691" cy="123.6" r="3.55"/><circle cx="599.9" cy="155.8" r="3.55"/><circle cx="670.7" cy="131" r="3.55"/><circle cx="636.8" cy="140.7" r="3.55"/><circle cx="723.8" cy="106.9" r="3.55"/><circle cx="600.9" cy="159.7" r="3.55"/><circle cx="740.3" cy="102.2" r="3.55"/><circle cx="690.4" cy="124" r="3.55"/><circle cx="585" cy="162.3" r="3.55"/><circle cx="656.1" cy="136.7" r="3.55"/><circle cx="635.8" cy="142.9" r="3.55"/><circle cx="728.3" cy="109.3" r="3.55"/><circle cx="614" cy="152.7" r="3.55"/><circle cx="594.1" cy="159" r="3.55"/><circle cx="633.7" cy="141.7" r="3.55"/><circle cx="616.2" cy="150.8" r="3.55"/><circle cx="588.9" cy="159.8" r="3.55"/><circle cx="611.2" cy="152.2" r="3.55"/><circle cx="657.2" cy="137.1" r="3.55"/><circle cx="743" cy="99.5" r="3.55"/><circle cx="630.7" cy="147.5" r="3.55"/><circle cx="658.7" cy="136.6" r="3.55"/><circle cx="733.5" cy="104.9" r="3.55"/><circle cx="729.1" cy="107.8" r="3.55"/><circle cx="676.6" cy="125.8" r="3.55"/><circle cx="269.1" cy="250.8" r="3.55"/><circle cx="281.8" cy="254" r="3.55"/><circle cx="277.1" cy="257.8" r="3.55"/><circle cx="271.4" cy="267" r="3.55"/><circle cx="258.7" cy="269.3" r="3.55"/><circle cx="303.2" cy="233.4" r="3.55"/><circle cx="313.2" cy="250.1" r="3.55"/><circle cx="322.7" cy="221.8" r="3.55"/><circle cx="337.5" cy="226.1" r="3.55"/><circle cx="337.5" cy="242.3" r="3.55"/><circle cx="321.9" cy="239.2" r="3.55"/><circle cx="350.9" cy="222.3" r="3.55"/><circle cx="354.1" cy="194.8" r="3.55"/><circle cx="361" cy="198.3" r="3.55"/><circle cx="374.1" cy="227.3" r="3.55"/><circle cx="377.6" cy="223.5" r="3.55"/><circle cx="408" cy="207.5" r="3.55"/><circle cx="419.3" cy="217.4" r="3.55"/><circle cx="208.2" cy="326.2" r="3.55"/><circle cx="253.5" cy="307.6" r="3.55"/><circle cx="235.7" cy="310.2" r="3.55"/><circle cx="321.5" cy="286.2" r="3.55"/><circle cx="329.3" cy="282.2" r="3.55"/><circle cx="359.6" cy="265.3" r="3.55"/><circle cx="375.3" cy="260.6" r="3.55"/><circle cx="401.4" cy="256.6" r="3.55"/><circle cx="412.4" cy="245.3" r="3.55"/><circle cx="342.7" cy="269.6" r="3.55"/><circle cx="302.7" cy="283.9" r="3.55"/><circle cx="293.2" cy="284.9" r="3.55"/><circle cx="272.6" cy="295.4" r="3.55"/><circle cx="587.3" cy="37.9" r="3.55"/><circle cx="578.9" cy="61.8" r="3.55"/><circle cx="511.9" cy="137.8" r="3.55"/><circle cx="563.1" cy="144.8" r="3.55"/><circle cx="569.7" cy="145.7" r="3.55"/><circle cx="571.9" cy="152.3" r="3.55"/><circle cx="569.7" cy="157.5" r="3.55"/><circle cx="562.2" cy="158.9" r="3.55"/><circle cx="593.5" cy="137.8" r="3.55"/><circle cx="609.7" cy="137.8" r="3.55"/><circle cx="614.1" cy="139.2" r="3.55"/><circle cx="624.5" cy="141.8" r="3.55"/><circle cx="633.2" cy="133.6" r="3.55"/><circle cx="632" cy="112.2" r="3.55"/><circle cx="636.2" cy="107.5" r="3.55"/><circle cx="642.8" cy="129.1" r="3.55"/><circle cx="647.1" cy="127.9" r="3.55"/><circle cx="657.6" cy="127.9" r="3.55"/><circle cx="673.8" cy="116.2" r="3.55"/><circle cx="641.9" cy="150.9" r="3.55"/><circle cx="597.9" cy="166.2" r="3.55"/><circle cx="578" cy="173.2" r="3.55"/><circle cx="679.3" cy="140.6" r="3.55"/><circle cx="787" cy="80.6" r="3.55"/><circle cx="787" cy="85.3" r="3.55"/><circle cx="812.3" cy="86.1" r="3.55"/><circle cx="759.3" cy="93.4" r="3.55"/><circle cx="748.9" cy="98.3" r="3.55"/><circle cx="748.9" cy="102.7" r="3.55"/><circle cx="717.9" cy="122.7" r="3.55"/><circle cx="664" cy="129.6" r="3.55"/><circle cx="625.7" cy="196.1" r="3.55"/><circle cx="466.7" cy="185.6" r="3.55"/><circle cx="493.6" cy="209.3" r="3.55"/><circle cx="511.4" cy="206.2" r="3.55"/><circle cx="507.9" cy="201.5" r="3.55"/><circle cx="478.3" cy="211.4" r="3.55"/><circle cx="460.9" cy="221.8" r="3.55"/><circle cx="426.1" cy="234" r="3.55"/><circle cx="547.9" cy="187.9" r="3.55"/><circle cx="553.2" cy="182.7" r="3.55"/><circle cx="534" cy="190.5" r="3.55"/><circle cx="569.7" cy="175.7" r="3.55"/><circle cx="564.5" cy="176.6" r="3.55"/><circle cx="509.6" cy="171.4" r="3.55"/><circle cx="514" cy="176.1" r="3.55"/><circle cx="524.4" cy="166.7" r="3.55"/><circle cx="535.7" cy="166.1" r="3.55"/><circle cx="537.5" cy="170.5" r="3.55"/><circle cx="541.8" cy="167.9" r="3.55"/>
</g>
<line x1="139.2" y1="341.6" x2="843.9" y2="62.7" stroke="#f00" stroke-width="2.5"/>
</g>
<path d="M171 343.2v6.4M333.2 343.2v6.4M495.5 343.2v6.4M657.8 343.2v6.4M820 343.2v6.4M139.2 329h-5.9M139.2 248.7h-5.9M139.2 168.5h-5.9M139.2 88.2h-5.9" stroke="#000" stroke-width="2" fill="none"/>
<text transform="translate(119.5 340.7) scale(1.0 1.045)" text-anchor="end">0.00</text>
<text transform="translate(119.5 260.43) scale(1.0 1.045)" text-anchor="end">0.25</text>
<text transform="translate(119.5 180.16) scale(1.0 1.045)" text-anchor="end">0.50</text>
<text transform="translate(119.5 99.9) scale(1.0 1.045)" text-anchor="end">0.75</text>
<text transform="translate(171 385.3) scale(1.0 1.045)" text-anchor="middle">0.0</text>
<text transform="translate(333.25 385.3) scale(1.0 1.045)" text-anchor="middle">0.2</text>
<text transform="translate(495.5 385.3) scale(1.0 1.045)" text-anchor="middle">0.4</text>
<text transform="translate(657.75 385.3) scale(1.0 1.045)" text-anchor="middle">0.6</text>
<text transform="translate(820 385.3) scale(1.0 1.045)" text-anchor="middle">0.8</text>
<text transform="translate(491.6 430.6) scale(1.0 1.045)" text-anchor="middle">auPRC [500 bp]</text>
<text transform="translate(28.6 183.4) rotate(-90) scale(1.0 1.045)" text-anchor="middle">auPRC [2000 bp]</text>
<path d="M140 835.5H844.9M140 795.4H844.9M140 755.3H844.9M140 715.2H844.9M140 675H844.9M140 634.9H844.9M140 594.8H844.9M140 554.7H844.9M171.9 530.2V849.7M261.6 530.2V849.7M351.4 530.2V849.7M441.1 530.2V849.7M530.9 530.2V849.7M620.6 530.2V849.7M710.4 530.2V849.7M800.1 530.2V849.7" stroke="#d1d1d1" stroke-width="2.0" fill="none"/>
<clipPath id="cb"><rect x="140" y="530.2" width="704.9" height="319.5"/></clipPath>
<g clip-path="url(#cb)">
<g fill="#F8766D">
<circle cx="505.4" cy="673.5" r="3.05"/><circle cx="492.7" cy="677.8" r="3.05"/><circle cx="459.8" cy="691.7" r="3.05"/><circle cx="506.7" cy="670.9" r="3.05"/><circle cx="453.3" cy="694.5" r="3.05"/><circle cx="481.1" cy="681.2" r="3.05"/><circle cx="432.2" cy="707.3" r="3.05"/><circle cx="500.6" cy="675.4" r="3.05"/><circle cx="505.3" cy="669.6" r="3.05"/><circle cx="494.8" cy="674.3" r="3.05"/><circle cx="511.3" cy="670.7" r="3.05"/><circle cx="471.4" cy="685.8" r="3.05"/><circle cx="476.2" cy="686.7" r="3.05"/><circle cx="464.5" cy="690.8" r="3.05"/><circle cx="493.4" cy="675.5" r="3.05"/><circle cx="452.9" cy="693" r="3.05"/><circle cx="499.2" cy="676.1" r="3.05"/><circle cx="531" cy="657.3" r="3.05"/><circle cx="517.9" cy="666.2" r="3.05"/><circle cx="499.9" cy="674.1" r="3.05"/><circle cx="487.3" cy="674.2" r="3.05"/><circle cx="528.7" cy="661.2" r="3.05"/><circle cx="473.4" cy="689.5" r="3.05"/><circle cx="449.9" cy="698.3" r="3.05"/><circle cx="443.3" cy="700.5" r="3.05"/><circle cx="461.8" cy="693.3" r="3.05"/><circle cx="512.9" cy="671.6" r="3.05"/><circle cx="448.8" cy="694.5" r="3.05"/><circle cx="490.4" cy="685.4" r="3.05"/><circle cx="508.4" cy="670.9" r="3.05"/><circle cx="508.7" cy="672.2" r="3.05"/><circle cx="480.9" cy="679.7" r="3.05"/><circle cx="498.9" cy="672.2" r="3.05"/><circle cx="495.6" cy="675.9" r="3.05"/><circle cx="440.3" cy="698.1" r="3.05"/><circle cx="469.1" cy="687" r="3.05"/><circle cx="480.1" cy="685.4" r="3.05"/><circle cx="442.7" cy="698.1" r="3.05"/><circle cx="476.7" cy="682.7" r="3.05"/><circle cx="534.7" cy="662.8" r="3.05"/><circle cx="524.2" cy="663.2" r="3.05"/><circle cx="452.7" cy="693.1" r="3.05"/><circle cx="501.6" cy="669.5" r="3.05"/><circle cx="456.1" cy="693.9" r="3.05"/><circle cx="490.7" cy="682.1" r="3.05"/><circle cx="515.4" cy="665.2" r="3.05"/><circle cx="504.2" cy="678.2" r="3.05"/><circle cx="454.9" cy="696.9" r="3.05"/><circle cx="524" cy="661.9" r="3.05"/><circle cx="468.8" cy="690.9" r="3.05"/><circle cx="476.4" cy="683.4" r="3.05"/><circle cx="474.8" cy="682.9" r="3.05"/><circle cx="474.6" cy="687.1" r="3.05"/><circle cx="534.6" cy="658.5" r="3.05"/><circle cx="445.3" cy="696.6" r="3.05"/><circle cx="513.3" cy="668.1" r="3.05"/><circle cx="493" cy="677.8" r="3.05"/><circle cx="440.6" cy="700.8" r="3.05"/><circle cx="477.8" cy="685.6" r="3.05"/><circle cx="438.6" cy="700.9" r="3.05"/><circle cx="487.3" cy="678.7" r="3.05"/><circle cx="454.3" cy="693.7" r="3.05"/><circle cx="483.1" cy="683.3" r="3.05"/><circle cx="480" cy="684.1" r="3.05"/><circle cx="457.5" cy="693.8" r="3.05"/><circle cx="484.3" cy="684" r="3.05"/><circle cx="494.4" cy="676.9" r="3.05"/><circle cx="476.8" cy="684.2" r="3.05"/><circle cx="461.8" cy="691.4" r="3.05"/><circle cx="499.9" cy="677" r="3.05"/><circle cx="524.3" cy="659.4" r="3.05"/><circle cx="486" cy="683.1" r="3.05"/><circle cx="442.2" cy="700.6" r="3.05"/><circle cx="461.6" cy="687.7" r="3.05"/><circle cx="515" cy="665.3" r="3.05"/><circle cx="488.5" cy="680.8" r="3.05"/><circle cx="487.2" cy="682.7" r="3.05"/><circle cx="460.5" cy="693.8" r="3.05"/><circle cx="527.5" cy="657.3" r="3.05"/><circle cx="444.9" cy="698.7" r="3.05"/><circle cx="525.4" cy="663.5" r="3.05"/><circle cx="438" cy="703.2" r="3.05"/><circle cx="483" cy="684.4" r="3.05"/><circle cx="522.2" cy="664.9" r="3.05"/><circle cx="433.8" cy="704.5" r="3.05"/><circle cx="451.8" cy="701.5" r="3.05"/><circle cx="490.2" cy="682.3" r="3.05"/><circle cx="497.6" cy="678.9" r="3.05"/><circle cx="462.6" cy="691.7" r="3.05"/><circle cx="504.2" cy="673.5" r="3.05"/><circle cx="498.3" cy="671.6" r="3.05"/><circle cx="482.2" cy="681.6" r="3.05"/><circle cx="504.8" cy="675" r="3.05"/><circle cx="453.3" cy="695.2" r="3.05"/><circle cx="494.2" cy="675.7" r="3.05"/><circle cx="529.1" cy="656" r="3.05"/><circle cx="506.6" cy="670.6" r="3.05"/><circle cx="442" cy="701.9" r="3.05"/><circle cx="489.1" cy="678.3" r="3.05"/><circle cx="467.2" cy="687.5" r="3.05"/><circle cx="468" cy="690.6" r="3.05"/><circle cx="484.8" cy="679.3" r="3.05"/><circle cx="491.6" cy="678.3" r="3.05"/><circle cx="510.8" cy="666.8" r="3.05"/><circle cx="459.2" cy="696.9" r="3.05"/><circle cx="437.8" cy="703.7" r="3.05"/><circle cx="467.2" cy="689.5" r="3.05"/><circle cx="529.3" cy="661" r="3.05"/><circle cx="512.5" cy="670.8" r="3.05"/><circle cx="501.2" cy="672.8" r="3.05"/><circle cx="505.9" cy="671" r="3.05"/><circle cx="452.2" cy="697" r="3.05"/><circle cx="511.5" cy="666.1" r="3.05"/><circle cx="496" cy="678.3" r="3.05"/><circle cx="454.4" cy="695.8" r="3.05"/><circle cx="496.8" cy="668.3" r="3.05"/><circle cx="477.9" cy="678" r="3.05"/><circle cx="507.6" cy="664.7" r="3.05"/><circle cx="483.1" cy="671.7" r="3.05"/><circle cx="479.8" cy="676.7" r="3.05"/><circle cx="468.4" cy="680.1" r="3.05"/><circle cx="497.3" cy="668.6" r="3.05"/><circle cx="482.4" cy="676.6" r="3.05"/><circle cx="504.5" cy="665.3" r="3.05"/><circle cx="506.9" cy="664.8" r="3.05"/>
</g>
<g fill="#00BA38">
<circle cx="812.8" cy="546.4" r="3.05"/><circle cx="714.4" cy="592" r="3.05"/><circle cx="696.2" cy="597.2" r="3.05"/><circle cx="689.6" cy="592.5" r="3.05"/><circle cx="684" cy="600.2" r="3.05"/><circle cx="674.4" cy="604.7" r="3.05"/><circle cx="678.8" cy="605.1" r="3.05"/><circle cx="679.3" cy="608" r="3.05"/><circle cx="660.5" cy="613.8" r="3.05"/><circle cx="663.5" cy="616.7" r="3.05"/><circle cx="640.8" cy="620.7" r="3.05"/><circle cx="633.9" cy="623" r="3.05"/><circle cx="623.6" cy="628.9" r="3.05"/><circle cx="613.9" cy="630.3" r="3.05"/><circle cx="607.1" cy="635.5" r="3.05"/><circle cx="595.8" cy="641.9" r="3.05"/><circle cx="583" cy="650.3" r="3.05"/><circle cx="570.9" cy="651.2" r="3.05"/><circle cx="509.6" cy="662.4" r="3.05"/><circle cx="531.4" cy="665" r="3.05"/><circle cx="541.8" cy="664.2" r="3.05"/><circle cx="564.5" cy="655.5" r="3.05"/><circle cx="571.4" cy="651.1" r="3.05"/><circle cx="582.7" cy="651.1" r="3.05"/><circle cx="595.8" cy="641.5" r="3.05"/><circle cx="607.1" cy="636" r="3.05"/><circle cx="614.1" cy="631.1" r="3.05"/><circle cx="623.6" cy="628.5" r="3.05"/><circle cx="634.1" cy="622.4" r="3.05"/><circle cx="641" cy="621.5" r="3.05"/><circle cx="661.1" cy="613.7" r="3.05"/><circle cx="664.5" cy="616.8" r="3.05"/><circle cx="549.7" cy="651.1" r="3.05"/><circle cx="439.2" cy="696.4" r="3.05"/><circle cx="425.8" cy="725.1" r="3.05"/><circle cx="400.9" cy="736.4" r="3.05"/><circle cx="205.3" cy="802.5" r="3.05"/><circle cx="224.4" cy="813.8" r="3.05"/><circle cx="239.2" cy="808.6" r="3.05"/><circle cx="249.6" cy="801.6" r="3.05"/><circle cx="308.8" cy="770.3" r="3.05"/><circle cx="320.1" cy="768.5" r="3.05"/><circle cx="324.5" cy="759.8" r="3.05"/><circle cx="357.5" cy="754.6" r="3.05"/><circle cx="382.8" cy="743.3" r="3.05"/><circle cx="399.3" cy="736.3" r="3.05"/><circle cx="544.7" cy="664.5" r="3.05"/><circle cx="413.1" cy="727.5" r="3.05"/><circle cx="566.4" cy="656.4" r="3.05"/><circle cx="475.4" cy="696.7" r="3.05"/><circle cx="347.3" cy="752.5" r="3.05"/><circle cx="599.5" cy="642.2" r="3.05"/><circle cx="580.8" cy="651.3" r="3.05"/><circle cx="208.2" cy="818.7" r="3.05"/><circle cx="497.4" cy="688.8" r="3.05"/><circle cx="375.3" cy="739.7" r="3.05"/><circle cx="541" cy="666.5" r="3.05"/><circle cx="527.6" cy="674.9" r="3.05"/><circle cx="509" cy="681" r="3.05"/><circle cx="533.1" cy="670.6" r="3.05"/><circle cx="613.9" cy="630.8" r="3.05"/><circle cx="377.1" cy="743.8" r="3.05"/><circle cx="587.3" cy="644.9" r="3.05"/><circle cx="278.9" cy="785.8" r="3.05"/><circle cx="503.6" cy="682.8" r="3.05"/><circle cx="272.6" cy="790.5" r="3.05"/><circle cx="476.6" cy="697.5" r="3.05"/><circle cx="254.1" cy="786.4" r="3.05"/><circle cx="431.1" cy="719.8" r="3.05"/><circle cx="530.3" cy="670.7" r="3.05"/><circle cx="427" cy="714.4" r="3.05"/><circle cx="515.2" cy="678.1" r="3.05"/><circle cx="584.9" cy="649.9" r="3.05"/><circle cx="281.3" cy="781.4" r="3.05"/><circle cx="574.1" cy="652.8" r="3.05"/><circle cx="574.9" cy="650.2" r="3.05"/><circle cx="588.5" cy="647.5" r="3.05"/><circle cx="430.7" cy="715.3" r="3.05"/><circle cx="533.8" cy="668.7" r="3.05"/><circle cx="373" cy="744.5" r="3.05"/><circle cx="310.4" cy="772.1" r="3.05"/><circle cx="371.5" cy="746.3" r="3.05"/><circle cx="232.6" cy="806" r="3.05"/><circle cx="195.8" cy="824.1" r="3.05"/><circle cx="510.5" cy="678.6" r="3.05"/><circle cx="293.9" cy="778.5" r="3.05"/><circle cx="267.8" cy="787.4" r="3.05"/><circle cx="448.8" cy="707.9" r="3.05"/><circle cx="441.5" cy="713.3" r="3.05"/><circle cx="498.8" cy="686.9" r="3.05"/><circle cx="494.5" cy="692.3" r="3.05"/><circle cx="308.9" cy="769" r="3.05"/><circle cx="215.7" cy="817.7" r="3.05"/><circle cx="593.4" cy="645.4" r="3.05"/><circle cx="222.9" cy="809.8" r="3.05"/><circle cx="531" cy="673" r="3.05"/>
</g>
<g fill="#619CFF">
<circle cx="224.6" cy="811.9" r="3.05"/><circle cx="220.9" cy="798.7" r="3.05"/><circle cx="186.1" cy="826.2" r="3.05"/><circle cx="190.5" cy="813.5" r="3.05"/><circle cx="184.2" cy="820.5" r="3.05"/><circle cx="181.5" cy="822.3" r="3.05"/><circle cx="194.1" cy="810.6" r="3.05"/><circle cx="227.9" cy="799.3" r="3.05"/><circle cx="231.5" cy="797.8" r="3.05"/><circle cx="204.1" cy="807.1" r="3.05"/><circle cx="174.3" cy="830.8" r="3.05"/><circle cx="209.3" cy="819.1" r="3.05"/><circle cx="231.5" cy="793.4" r="3.05"/><circle cx="186.5" cy="829" r="3.05"/><circle cx="177.1" cy="830.1" r="3.05"/><circle cx="191.9" cy="811.4" r="3.05"/><circle cx="211.5" cy="805.3" r="3.05"/><circle cx="222.1" cy="804.6" r="3.05"/><circle cx="186" cy="819.7" r="3.05"/><circle cx="200.3" cy="818.9" r="3.05"/><circle cx="198.3" cy="814.1" r="3.05"/><circle cx="226" cy="792.9" r="3.05"/><circle cx="187" cy="822.7" r="3.05"/><circle cx="201.1" cy="812.5" r="3.05"/><circle cx="205.8" cy="810.9" r="3.05"/><circle cx="223.8" cy="806.1" r="3.05"/><circle cx="191.7" cy="813.3" r="3.05"/><circle cx="213.4" cy="813.2" r="3.05"/><circle cx="229.2" cy="805.5" r="3.05"/><circle cx="215.1" cy="803.2" r="3.05"/><circle cx="192.9" cy="811.7" r="3.05"/><circle cx="203.3" cy="806.7" r="3.05"/><circle cx="179.1" cy="824.9" r="3.05"/><circle cx="187.8" cy="825.8" r="3.05"/><circle cx="185.5" cy="820.7" r="3.05"/><circle cx="208.1" cy="819" r="3.05"/><circle cx="210.5" cy="814.5" r="3.05"/><circle cx="224.1" cy="808.2" r="3.05"/><circle cx="198.6" cy="814.7" r="3.05"/><circle cx="221.5" cy="810.7" r="3.05"/><circle cx="179.2" cy="828" r="3.05"/><circle cx="178.1" cy="828.5" r="3.05"/><circle cx="198.6" cy="814.2" r="3.05"/><circle cx="172.5" cy="832.7" r="3.05"/><circle cx="243.4" cy="784.4" r="3.05"/><circle cx="200.1" cy="817.5" r="3.05"/><circle cx="208.7" cy="811.1" r="3.05"/><circle cx="231.6" cy="800.1" r="3.05"/><circle cx="235.9" cy="799.6" r="3.05"/><circle cx="205" cy="809.4" r="3.05"/><circle cx="234" cy="806.5" r="3.05"/><circle cx="242.1" cy="804.5" r="3.05"/><circle cx="232.4" cy="799.8" r="3.05"/><circle cx="223.1" cy="795.2" r="3.05"/><circle cx="219.1" cy="806.5" r="3.05"/><circle cx="196.1" cy="822.5" r="3.05"/><circle cx="228.7" cy="804.8" r="3.05"/><circle cx="180.2" cy="827.1" r="3.05"/><circle cx="207.9" cy="812" r="3.05"/><circle cx="193.4" cy="818" r="3.05"/><circle cx="195" cy="811.5" r="3.05"/><circle cx="226.1" cy="806.4" r="3.05"/><circle cx="204.1" cy="813.2" r="3.05"/><circle cx="182.9" cy="820.8" r="3.05"/><circle cx="236.3" cy="802.6" r="3.05"/><circle cx="174.3" cy="831.4" r="3.05"/><circle cx="222.9" cy="811.8" r="3.05"/><circle cx="193.6" cy="819.2" r="3.05"/><circle cx="173" cy="832.4" r="3.05"/><circle cx="178.4" cy="829.2" r="3.05"/><circle cx="230.9" cy="801.7" r="3.05"/><circle cx="232.2" cy="808" r="3.05"/><circle cx="239.7" cy="797.9" r="3.05"/><circle cx="179.1" cy="831.3" r="3.05"/><circle cx="223.7" cy="807.5" r="3.05"/><circle cx="203.3" cy="816.6" r="3.05"/><circle cx="191.6" cy="813.1" r="3.05"/><circle cx="207.5" cy="815.6" r="3.05"/><circle cx="208.1" cy="802.4" r="3.05"/><circle cx="236" cy="802.1" r="3.05"/><circle cx="243" cy="780.1" r="3.05"/><circle cx="243.5" cy="789.7" r="3.05"/><circle cx="177.6" cy="828.5" r="3.05"/><circle cx="205.1" cy="806.4" r="3.05"/><circle cx="218.5" cy="811.3" r="3.05"/><circle cx="202.4" cy="815.3" r="3.05"/><circle cx="218.6" cy="807.5" r="3.05"/><circle cx="185.4" cy="819.2" r="3.05"/><circle cx="189.2" cy="815.3" r="3.05"/><circle cx="235" cy="802.6" r="3.05"/><circle cx="194.3" cy="819" r="3.05"/><circle cx="232.5" cy="793.8" r="3.05"/><circle cx="212.7" cy="813.6" r="3.05"/><circle cx="183" cy="825.2" r="3.05"/><circle cx="232.8" cy="803" r="3.05"/><circle cx="172.8" cy="832.3" r="3.05"/><circle cx="198.8" cy="824.6" r="3.05"/><circle cx="190.1" cy="820.4" r="3.05"/><circle cx="192.5" cy="824.1" r="3.05"/><circle cx="223" cy="789.5" r="3.05"/><circle cx="230.3" cy="806.7" r="3.05"/><circle cx="200.6" cy="819.4" r="3.05"/><circle cx="227.8" cy="797.4" r="3.05"/><circle cx="230.2" cy="798.3" r="3.05"/><circle cx="198.5" cy="821.9" r="3.05"/><circle cx="238.8" cy="791.9" r="3.05"/><circle cx="227.8" cy="802.5" r="3.05"/><circle cx="194.7" cy="823.4" r="3.05"/><circle cx="189.7" cy="821.8" r="3.05"/><circle cx="207.3" cy="813.8" r="3.05"/><circle cx="203.9" cy="799.5" r="3.05"/><circle cx="241.7" cy="801.3" r="3.05"/><circle cx="173.2" cy="832.9" r="3.05"/><circle cx="232.9" cy="787.5" r="3.05"/><circle cx="193.8" cy="816.6" r="3.05"/><circle cx="208.2" cy="813.7" r="3.05"/><circle cx="186.4" cy="821.4" r="3.05"/><circle cx="241.3" cy="778.6" r="3.05"/><circle cx="172.8" cy="834" r="3.05"/><circle cx="210.8" cy="811.5" r="3.05"/><circle cx="179.2" cy="829.4" r="3.05"/><circle cx="214.9" cy="815.7" r="3.05"/><circle cx="191.8" cy="815.2" r="3.05"/><circle cx="226.6" cy="798.4" r="3.05"/><circle cx="238.6" cy="794.6" r="3.05"/><circle cx="243.1" cy="803.5" r="3.05"/><circle cx="224.1" cy="803.4" r="3.05"/><circle cx="222.5" cy="807.3" r="3.05"/><circle cx="228.6" cy="810" r="3.05"/><circle cx="189" cy="821.1" r="3.05"/><circle cx="209.9" cy="806.2" r="3.05"/><circle cx="240.4" cy="784.2" r="3.05"/><circle cx="209" cy="812.1" r="3.05"/><circle cx="184.5" cy="819" r="3.05"/><circle cx="173.2" cy="833.5" r="3.05"/><circle cx="232.3" cy="801.5" r="3.05"/><circle cx="176.5" cy="830.5" r="3.05"/><circle cx="222.2" cy="801.5" r="3.05"/><circle cx="208.3" cy="816.7" r="3.05"/><circle cx="187.5" cy="817.1" r="3.05"/><circle cx="242.6" cy="798.2" r="3.05"/><circle cx="194.4" cy="810.2" r="3.05"/><circle cx="212.6" cy="812.5" r="3.05"/><circle cx="181.6" cy="823.5" r="3.05"/><circle cx="226.9" cy="805.6" r="3.05"/><circle cx="227.3" cy="802.2" r="3.05"/><circle cx="179.5" cy="826" r="3.05"/><circle cx="177.2" cy="828.5" r="3.05"/><circle cx="234.6" cy="800.2" r="3.05"/><circle cx="196.4" cy="820.4" r="3.05"/><circle cx="228.2" cy="800.2" r="3.05"/><circle cx="199.5" cy="818.1" r="3.05"/><circle cx="187.3" cy="823" r="3.05"/><circle cx="217.7" cy="806.2" r="3.05"/><circle cx="239.3" cy="797.2" r="3.05"/><circle cx="190.3" cy="822.8" r="3.05"/><circle cx="227.1" cy="808.1" r="3.05"/><circle cx="206.4" cy="813.3" r="3.05"/><circle cx="198.9" cy="821.3" r="3.05"/><circle cx="238.2" cy="791.6" r="3.05"/><circle cx="192.6" cy="818.2" r="3.05"/><circle cx="236.9" cy="779.2" r="3.05"/><circle cx="231.4" cy="805.2" r="3.05"/><circle cx="201.4" cy="818.9" r="3.05"/><circle cx="178.3" cy="826" r="3.05"/><circle cx="307.6" cy="768.4" r="3.05"/><circle cx="281" cy="775.2" r="3.05"/><circle cx="273.4" cy="784" r="3.05"/><circle cx="311.1" cy="761.5" r="3.05"/><circle cx="261.7" cy="789.9" r="3.05"/><circle cx="314" cy="761" r="3.05"/><circle cx="255.1" cy="792.3" r="3.05"/><circle cx="260.7" cy="775.1" r="3.05"/><circle cx="282" cy="771.8" r="3.05"/><circle cx="309.7" cy="772.9" r="3.05"/><circle cx="259.8" cy="795.7" r="3.05"/><circle cx="296.6" cy="766.8" r="3.05"/><circle cx="260.4" cy="792.7" r="3.05"/><circle cx="276.2" cy="772.1" r="3.05"/><circle cx="286.5" cy="770.3" r="3.05"/><circle cx="257.4" cy="787.2" r="3.05"/><circle cx="267.7" cy="788.7" r="3.05"/><circle cx="275.6" cy="758.9" r="3.05"/><circle cx="265.3" cy="789.7" r="3.05"/><circle cx="295.6" cy="774.1" r="3.05"/><circle cx="302.2" cy="766.8" r="3.05"/><circle cx="266.3" cy="789.7" r="3.05"/><circle cx="298" cy="770.1" r="3.05"/><circle cx="259.4" cy="791.9" r="3.05"/><circle cx="289.4" cy="775" r="3.05"/><circle cx="258.5" cy="786.6" r="3.05"/><circle cx="257.9" cy="791.7" r="3.05"/><circle cx="268.7" cy="774.7" r="3.05"/><circle cx="296.2" cy="777.9" r="3.05"/><circle cx="250.6" cy="796" r="3.05"/><circle cx="307.2" cy="756.4" r="3.05"/><circle cx="262" cy="795.6" r="3.05"/><circle cx="257.9" cy="789.3" r="3.05"/><circle cx="303.7" cy="772.9" r="3.05"/><circle cx="252.3" cy="796.4" r="3.05"/><circle cx="275.7" cy="783.8" r="3.05"/><circle cx="295.7" cy="774.2" r="3.05"/><circle cx="284" cy="776.7" r="3.05"/><circle cx="307.3" cy="762.6" r="3.05"/><circle cx="307.4" cy="774.7" r="3.05"/><circle cx="282.2" cy="777" r="3.05"/><circle cx="288.7" cy="775.7" r="3.05"/><circle cx="294.8" cy="780.2" r="3.05"/><circle cx="254.4" cy="788.6" r="3.05"/><circle cx="250.6" cy="787.5" r="3.05"/><circle cx="259.3" cy="776.8" r="3.05"/><circle cx="268" cy="785.5" r="3.05"/><circle cx="313.1" cy="761.9" r="3.05"/><circle cx="304.6" cy="755.9" r="3.05"/><circle cx="250.9" cy="779.2" r="3.05"/><circle cx="292.9" cy="774.1" r="3.05"/><circle cx="310.7" cy="766.7" r="3.05"/><circle cx="302" cy="772.1" r="3.05"/><circle cx="278.8" cy="786.4" r="3.05"/><circle cx="274.2" cy="773.6" r="3.05"/><circle cx="244.8" cy="791" r="3.05"/><circle cx="245.8" cy="802" r="3.05"/><circle cx="296.8" cy="776" r="3.05"/><circle cx="291.4" cy="770.5" r="3.05"/><circle cx="311.7" cy="773.9" r="3.05"/><circle cx="315.3" cy="769.6" r="3.05"/><circle cx="296.2" cy="779.5" r="3.05"/><circle cx="279" cy="785.1" r="3.05"/><circle cx="253.1" cy="794.6" r="3.05"/><circle cx="290.2" cy="771.5" r="3.05"/><circle cx="280.5" cy="787.2" r="3.05"/><circle cx="252.6" cy="792" r="3.05"/><circle cx="278.5" cy="768.6" r="3.05"/><circle cx="258.5" cy="786.1" r="3.05"/><circle cx="255.7" cy="792" r="3.05"/><circle cx="313.9" cy="770" r="3.05"/><circle cx="295.7" cy="761.8" r="3.05"/><circle cx="280.7" cy="775.9" r="3.05"/><circle cx="290.8" cy="770.6" r="3.05"/><circle cx="284.8" cy="782.8" r="3.05"/><circle cx="274.7" cy="778.6" r="3.05"/><circle cx="274.3" cy="783.2" r="3.05"/><circle cx="244.9" cy="785.8" r="3.05"/><circle cx="286.2" cy="778" r="3.05"/><circle cx="306.4" cy="766.9" r="3.05"/><circle cx="307.8" cy="770.3" r="3.05"/><circle cx="277.4" cy="781.5" r="3.05"/><circle cx="305.7" cy="763.8" r="3.05"/><circle cx="276.7" cy="765.6" r="3.05"/><circle cx="307.7" cy="773.1" r="3.05"/><circle cx="261.6" cy="793.3" r="3.05"/><circle cx="284.8" cy="779.4" r="3.05"/><circle cx="256.8" cy="780.6" r="3.05"/><circle cx="312" cy="767.2" r="3.05"/><circle cx="273.2" cy="777.4" r="3.05"/><circle cx="246.1" cy="800.2" r="3.05"/><circle cx="265.7" cy="780.9" r="3.05"/><circle cx="262" cy="783.6" r="3.05"/><circle cx="254.9" cy="793.9" r="3.05"/><circle cx="255.6" cy="794.8" r="3.05"/><circle cx="267.6" cy="785.8" r="3.05"/><circle cx="277.8" cy="781.1" r="3.05"/><circle cx="274.3" cy="774.6" r="3.05"/><circle cx="253.4" cy="783.2" r="3.05"/><circle cx="258.6" cy="793.7" r="3.05"/><circle cx="282.7" cy="786.9" r="3.05"/><circle cx="248.7" cy="796.7" r="3.05"/><circle cx="283.2" cy="780.1" r="3.05"/><circle cx="263.8" cy="788.4" r="3.05"/><circle cx="293.8" cy="778.2" r="3.05"/><circle cx="302.7" cy="765.4" r="3.05"/><circle cx="314.2" cy="753" r="3.05"/><circle cx="314.2" cy="767.5" r="3.05"/><circle cx="290.6" cy="776.2" r="3.05"/><circle cx="250.9" cy="796.7" r="3.05"/><circle cx="289.9" cy="767.6" r="3.05"/><circle cx="249.9" cy="788.1" r="3.05"/><circle cx="275" cy="786.6" r="3.05"/><circle cx="280.4" cy="783.9" r="3.05"/><circle cx="256.2" cy="793.6" r="3.05"/><circle cx="283.4" cy="768.3" r="3.05"/><circle cx="246.7" cy="796.5" r="3.05"/><circle cx="299.8" cy="776.1" r="3.05"/><circle cx="293.2" cy="779.4" r="3.05"/><circle cx="273" cy="787.6" r="3.05"/><circle cx="253.3" cy="796.3" r="3.05"/><circle cx="271.4" cy="780.4" r="3.05"/><circle cx="301.2" cy="776.3" r="3.05"/><circle cx="305.8" cy="765.5" r="3.05"/><circle cx="252.1" cy="795.2" r="3.05"/><circle cx="266.8" cy="785.8" r="3.05"/><circle cx="294.4" cy="758.8" r="3.05"/><circle cx="266.5" cy="790.7" r="3.05"/><circle cx="270.4" cy="785.5" r="3.05"/><circle cx="276.8" cy="783" r="3.05"/><circle cx="307.1" cy="768.9" r="3.05"/><circle cx="305.6" cy="756.4" r="3.05"/><circle cx="263.4" cy="793.2" r="3.05"/><circle cx="246.5" cy="779" r="3.05"/><circle cx="282.4" cy="778.8" r="3.05"/><circle cx="309.7" cy="772.1" r="3.05"/><circle cx="289.7" cy="760" r="3.05"/><circle cx="247.4" cy="802.3" r="3.05"/><circle cx="254.7" cy="788.4" r="3.05"/><circle cx="281.6" cy="779.4" r="3.05"/><circle cx="312.7" cy="751.7" r="3.05"/><circle cx="296.2" cy="770.9" r="3.05"/><circle cx="307" cy="759.8" r="3.05"/><circle cx="301.5" cy="767.5" r="3.05"/><circle cx="308.1" cy="757.9" r="3.05"/><circle cx="254.4" cy="792.7" r="3.05"/><circle cx="270.5" cy="790.9" r="3.05"/><circle cx="284.6" cy="779.5" r="3.05"/><circle cx="249.3" cy="792.9" r="3.05"/><circle cx="268.6" cy="774.9" r="3.05"/><circle cx="252.6" cy="793.4" r="3.05"/><circle cx="314.5" cy="746.1" r="3.05"/><circle cx="259.6" cy="796.3" r="3.05"/><circle cx="281.6" cy="781.2" r="3.05"/><circle cx="286.6" cy="779" r="3.05"/><circle cx="366.8" cy="739.5" r="3.05"/><circle cx="318.4" cy="761.2" r="3.05"/><circle cx="377.2" cy="734.4" r="3.05"/><circle cx="368.5" cy="748.3" r="3.05"/><circle cx="358.4" cy="750.1" r="3.05"/><circle cx="380.7" cy="736.2" r="3.05"/><circle cx="384.8" cy="728.2" r="3.05"/><circle cx="354.5" cy="735.6" r="3.05"/><circle cx="323" cy="761.2" r="3.05"/><circle cx="384.2" cy="729.3" r="3.05"/><circle cx="382.5" cy="736.7" r="3.05"/><circle cx="345.4" cy="751.3" r="3.05"/><circle cx="366.4" cy="734.2" r="3.05"/><circle cx="320.6" cy="752.7" r="3.05"/><circle cx="321.1" cy="760.2" r="3.05"/><circle cx="382" cy="731.1" r="3.05"/><circle cx="386" cy="721.7" r="3.05"/><circle cx="344.9" cy="747" r="3.05"/><circle cx="377.2" cy="743.7" r="3.05"/><circle cx="326" cy="763.3" r="3.05"/><circle cx="346.3" cy="740.4" r="3.05"/><circle cx="373.5" cy="746.2" r="3.05"/><circle cx="341.7" cy="759.8" r="3.05"/><circle cx="357.7" cy="751.2" r="3.05"/><circle cx="331.5" cy="756" r="3.05"/><circle cx="338.2" cy="752.2" r="3.05"/><circle cx="365.8" cy="743" r="3.05"/><circle cx="322.8" cy="754.6" r="3.05"/><circle cx="323" cy="748.9" r="3.05"/><circle cx="324.7" cy="754.3" r="3.05"/><circle cx="349.4" cy="740.3" r="3.05"/><circle cx="328.9" cy="756.6" r="3.05"/><circle cx="386.9" cy="728.2" r="3.05"/><circle cx="360.8" cy="732.5" r="3.05"/><circle cx="387.2" cy="732.1" r="3.05"/><circle cx="362.3" cy="744.1" r="3.05"/><circle cx="337.5" cy="752.4" r="3.05"/><circle cx="382.3" cy="733.5" r="3.05"/><circle cx="360.9" cy="747.4" r="3.05"/><circle cx="384.4" cy="734" r="3.05"/><circle cx="334.4" cy="758.4" r="3.05"/><circle cx="351.4" cy="754.9" r="3.05"/><circle cx="373.6" cy="743.4" r="3.05"/><circle cx="353.1" cy="746.7" r="3.05"/><circle cx="381.5" cy="725.3" r="3.05"/><circle cx="375.2" cy="729.4" r="3.05"/><circle cx="334.7" cy="762.9" r="3.05"/><circle cx="320.4" cy="761.4" r="3.05"/><circle cx="373.6" cy="723.2" r="3.05"/><circle cx="316.5" cy="769.2" r="3.05"/><circle cx="352.6" cy="750.5" r="3.05"/><circle cx="338.8" cy="761.9" r="3.05"/><circle cx="370.9" cy="723.4" r="3.05"/><circle cx="371.1" cy="727.1" r="3.05"/><circle cx="340" cy="752.3" r="3.05"/><circle cx="351.1" cy="738.8" r="3.05"/><circle cx="339.7" cy="752.9" r="3.05"/><circle cx="379.2" cy="737.3" r="3.05"/><circle cx="356.7" cy="745.4" r="3.05"/><circle cx="322.5" cy="762.6" r="3.05"/><circle cx="367" cy="730.1" r="3.05"/><circle cx="367.3" cy="722.6" r="3.05"/><circle cx="356" cy="746" r="3.05"/><circle cx="377.6" cy="729.9" r="3.05"/><circle cx="334.5" cy="753" r="3.05"/><circle cx="354.3" cy="744.8" r="3.05"/><circle cx="361.3" cy="738.8" r="3.05"/><circle cx="315.5" cy="769" r="3.05"/><circle cx="362.7" cy="740.7" r="3.05"/><circle cx="342.9" cy="754.4" r="3.05"/><circle cx="345.3" cy="751.5" r="3.05"/><circle cx="375.6" cy="725.9" r="3.05"/><circle cx="332.2" cy="760.1" r="3.05"/><circle cx="324.3" cy="757.7" r="3.05"/><circle cx="338.4" cy="747.9" r="3.05"/><circle cx="360" cy="744.5" r="3.05"/><circle cx="375.6" cy="738.2" r="3.05"/><circle cx="374.3" cy="733.4" r="3.05"/><circle cx="342.9" cy="757.3" r="3.05"/><circle cx="325.3" cy="762" r="3.05"/><circle cx="353.2" cy="743.9" r="3.05"/><circle cx="326.1" cy="765.3" r="3.05"/><circle cx="362.6" cy="748.7" r="3.05"/><circle cx="353.5" cy="742.9" r="3.05"/><circle cx="371" cy="742.2" r="3.05"/><circle cx="339.9" cy="752.6" r="3.05"/><circle cx="386.4" cy="719" r="3.05"/><circle cx="361.3" cy="739.3" r="3.05"/><circle cx="371.6" cy="742.3" r="3.05"/><circle cx="346.2" cy="740.8" r="3.05"/><circle cx="387.2" cy="724.2" r="3.05"/><circle cx="347.6" cy="750.5" r="3.05"/><circle cx="353.7" cy="748.7" r="3.05"/><circle cx="320.6" cy="765.9" r="3.05"/><circle cx="351.4" cy="744.9" r="3.05"/><circle cx="316.8" cy="759.5" r="3.05"/><circle cx="340.8" cy="754.3" r="3.05"/><circle cx="372.6" cy="742.1" r="3.05"/><circle cx="343.2" cy="747.2" r="3.05"/><circle cx="358.2" cy="751.9" r="3.05"/><circle cx="357.3" cy="751.5" r="3.05"/><circle cx="361.7" cy="745.6" r="3.05"/><circle cx="335.3" cy="757.6" r="3.05"/><circle cx="323.8" cy="763.8" r="3.05"/><circle cx="345.2" cy="736.4" r="3.05"/><circle cx="323.9" cy="743.2" r="3.05"/><circle cx="349.8" cy="751.3" r="3.05"/><circle cx="319.1" cy="766.7" r="3.05"/><circle cx="377.5" cy="740.9" r="3.05"/><circle cx="323.2" cy="763.1" r="3.05"/><circle cx="352" cy="742.2" r="3.05"/><circle cx="358.2" cy="751.5" r="3.05"/><circle cx="332.7" cy="761.1" r="3.05"/><circle cx="348.5" cy="747.7" r="3.05"/><circle cx="354.1" cy="748.5" r="3.05"/><circle cx="381.7" cy="734.6" r="3.05"/><circle cx="368.9" cy="737.7" r="3.05"/><circle cx="347.9" cy="755" r="3.05"/><circle cx="371.9" cy="742.7" r="3.05"/><circle cx="316.3" cy="758.1" r="3.05"/><circle cx="345.9" cy="756.4" r="3.05"/><circle cx="341" cy="749.9" r="3.05"/><circle cx="357.1" cy="744.4" r="3.05"/><circle cx="365.1" cy="747" r="3.05"/><circle cx="334.4" cy="749.1" r="3.05"/><circle cx="437" cy="715" r="3.05"/><circle cx="414.5" cy="725.2" r="3.05"/><circle cx="422.4" cy="711.1" r="3.05"/><circle cx="387.9" cy="734.6" r="3.05"/><circle cx="432.8" cy="707" r="3.05"/><circle cx="417" cy="724.1" r="3.05"/><circle cx="391.9" cy="735.5" r="3.05"/><circle cx="418.7" cy="719.2" r="3.05"/><circle cx="401" cy="722.4" r="3.05"/><circle cx="412.3" cy="717.1" r="3.05"/><circle cx="397.7" cy="723.4" r="3.05"/><circle cx="428.3" cy="721.1" r="3.05"/><circle cx="421.7" cy="719" r="3.05"/><circle cx="417.9" cy="721.8" r="3.05"/><circle cx="407.7" cy="725.9" r="3.05"/><circle cx="441.2" cy="711" r="3.05"/><circle cx="388.7" cy="730.9" r="3.05"/><circle cx="408.3" cy="709.3" r="3.05"/><circle cx="393.2" cy="733" r="3.05"/><circle cx="424.1" cy="711.9" r="3.05"/><circle cx="440.1" cy="707.4" r="3.05"/><circle cx="414" cy="728.3" r="3.05"/><circle cx="423.1" cy="714" r="3.05"/><circle cx="431.1" cy="704.2" r="3.05"/><circle cx="416" cy="726.1" r="3.05"/><circle cx="421.9" cy="723.3" r="3.05"/><circle cx="418.6" cy="722.5" r="3.05"/><circle cx="437" cy="703.8" r="3.05"/><circle cx="413.9" cy="724.9" r="3.05"/><circle cx="387.7" cy="738.1" r="3.05"/><circle cx="422.8" cy="712.4" r="3.05"/><circle cx="395.9" cy="727.2" r="3.05"/><circle cx="424.4" cy="721.5" r="3.05"/><circle cx="441.1" cy="706.4" r="3.05"/><circle cx="397.2" cy="729.3" r="3.05"/><circle cx="413.7" cy="722.8" r="3.05"/><circle cx="400.4" cy="730.7" r="3.05"/><circle cx="391.1" cy="733" r="3.05"/><circle cx="431.6" cy="714.3" r="3.05"/><circle cx="437.2" cy="701.3" r="3.05"/><circle cx="425.5" cy="712.6" r="3.05"/><circle cx="394.7" cy="730.7" r="3.05"/><circle cx="416.7" cy="710.2" r="3.05"/><circle cx="419" cy="725.2" r="3.05"/><circle cx="444.5" cy="711" r="3.05"/><circle cx="433.5" cy="705.1" r="3.05"/><circle cx="402.7" cy="725.3" r="3.05"/><circle cx="437.6" cy="701.9" r="3.05"/><circle cx="437.8" cy="715.6" r="3.05"/><circle cx="418" cy="716.6" r="3.05"/><circle cx="425.8" cy="716.3" r="3.05"/><circle cx="443" cy="709.7" r="3.05"/><circle cx="407.9" cy="728.9" r="3.05"/><circle cx="431.1" cy="713.5" r="3.05"/><circle cx="390.3" cy="731.3" r="3.05"/><circle cx="417.6" cy="726.3" r="3.05"/><circle cx="424.9" cy="714.1" r="3.05"/><circle cx="423.8" cy="722.1" r="3.05"/><circle cx="396.3" cy="716.5" r="3.05"/><circle cx="432.7" cy="708.8" r="3.05"/><circle cx="423.4" cy="709" r="3.05"/><circle cx="406" cy="730" r="3.05"/><circle cx="441.9" cy="708.8" r="3.05"/><circle cx="417.9" cy="712.9" r="3.05"/><circle cx="442.3" cy="710" r="3.05"/><circle cx="395.4" cy="733.2" r="3.05"/><circle cx="412.1" cy="727.3" r="3.05"/><circle cx="438.1" cy="716" r="3.05"/><circle cx="402.3" cy="725.3" r="3.05"/><circle cx="411.3" cy="721.6" r="3.05"/><circle cx="442" cy="711.6" r="3.05"/><circle cx="407.5" cy="715.8" r="3.05"/><circle cx="404.5" cy="724" r="3.05"/><circle cx="403.4" cy="717.9" r="3.05"/><circle cx="404" cy="723.7" r="3.05"/><circle cx="501" cy="685.1" r="3.05"/><circle cx="457.4" cy="706.9" r="3.05"/><circle cx="474.1" cy="698.9" r="3.05"/><circle cx="503.5" cy="682" r="3.05"/><circle cx="503" cy="684.2" r="3.05"/><circle cx="482.7" cy="696.4" r="3.05"/><circle cx="476.9" cy="692.9" r="3.05"/><circle cx="519.2" cy="677.5" r="3.05"/><circle cx="466.5" cy="702.6" r="3.05"/><circle cx="488.6" cy="688.1" r="3.05"/><circle cx="481.3" cy="696.5" r="3.05"/><circle cx="455.2" cy="703.6" r="3.05"/><circle cx="462.7" cy="699" r="3.05"/><circle cx="451.6" cy="706.5" r="3.05"/><circle cx="462.2" cy="704.7" r="3.05"/><circle cx="464.7" cy="704.5" r="3.05"/><circle cx="454.5" cy="705.4" r="3.05"/><circle cx="492.7" cy="688.9" r="3.05"/><circle cx="520.8" cy="674.3" r="3.05"/><circle cx="460.9" cy="703.5" r="3.05"/><circle cx="462" cy="706.4" r="3.05"/><circle cx="493.4" cy="691" r="3.05"/><circle cx="530.1" cy="668.7" r="3.05"/><circle cx="527.3" cy="672.6" r="3.05"/><circle cx="516.7" cy="677.5" r="3.05"/><circle cx="451.2" cy="705.4" r="3.05"/><circle cx="459.7" cy="699.5" r="3.05"/><circle cx="526.6" cy="674.9" r="3.05"/><circle cx="521.8" cy="677.4" r="3.05"/><circle cx="526.6" cy="674.6" r="3.05"/><circle cx="517.1" cy="670.3" r="3.05"/><circle cx="513.3" cy="676.3" r="3.05"/><circle cx="447.5" cy="713.2" r="3.05"/><circle cx="517.3" cy="681" r="3.05"/><circle cx="456.3" cy="699.3" r="3.05"/><circle cx="496.1" cy="685.7" r="3.05"/><circle cx="491.2" cy="689.1" r="3.05"/><circle cx="454.3" cy="701.8" r="3.05"/><circle cx="491.5" cy="690.1" r="3.05"/><circle cx="491.2" cy="683.8" r="3.05"/><circle cx="518.7" cy="679.5" r="3.05"/><circle cx="507.4" cy="682" r="3.05"/><circle cx="478.5" cy="695.2" r="3.05"/><circle cx="505.6" cy="683.7" r="3.05"/><circle cx="445.8" cy="708.3" r="3.05"/><circle cx="450.2" cy="709.9" r="3.05"/><circle cx="489.3" cy="694" r="3.05"/><circle cx="459.8" cy="704.7" r="3.05"/><circle cx="464.8" cy="699" r="3.05"/><circle cx="500.6" cy="688.5" r="3.05"/><circle cx="508.9" cy="679" r="3.05"/><circle cx="460.5" cy="705.5" r="3.05"/><circle cx="450.1" cy="707.9" r="3.05"/><circle cx="519.9" cy="675" r="3.05"/><circle cx="468.7" cy="696.9" r="3.05"/><circle cx="490.4" cy="686.3" r="3.05"/><circle cx="458.6" cy="705.2" r="3.05"/><circle cx="476.3" cy="699.9" r="3.05"/><circle cx="509.5" cy="682" r="3.05"/><circle cx="474.6" cy="691.6" r="3.05"/><circle cx="517.4" cy="680.2" r="3.05"/><circle cx="493.4" cy="687.3" r="3.05"/><circle cx="463.7" cy="704" r="3.05"/><circle cx="510.9" cy="678.8" r="3.05"/><circle cx="517.7" cy="676.7" r="3.05"/><circle cx="504.7" cy="683.7" r="3.05"/><circle cx="456.8" cy="706.1" r="3.05"/><circle cx="499.2" cy="684.5" r="3.05"/><circle cx="485.8" cy="691.3" r="3.05"/><circle cx="488.7" cy="692.2" r="3.05"/><circle cx="462.5" cy="704.2" r="3.05"/><circle cx="520.6" cy="671.1" r="3.05"/><circle cx="445.5" cy="712.8" r="3.05"/><circle cx="502.5" cy="685.8" r="3.05"/><circle cx="451" cy="702.9" r="3.05"/><circle cx="444.1" cy="701" r="3.05"/><circle cx="461.9" cy="684.8" r="3.05"/><circle cx="499.8" cy="689.4" r="3.05"/><circle cx="456.8" cy="696.4" r="3.05"/><circle cx="514.5" cy="681.7" r="3.05"/><circle cx="518.6" cy="674.2" r="3.05"/><circle cx="479.6" cy="691.4" r="3.05"/><circle cx="460.9" cy="701.5" r="3.05"/><circle cx="486.7" cy="692.7" r="3.05"/><circle cx="491.8" cy="684.6" r="3.05"/><circle cx="450.1" cy="705.2" r="3.05"/><circle cx="441.7" cy="703.6" r="3.05"/><circle cx="449.6" cy="697.1" r="3.05"/><circle cx="473.7" cy="690.1" r="3.05"/><circle cx="519.9" cy="658.9" r="3.05"/><circle cx="505" cy="673.6" r="3.05"/><circle cx="493.4" cy="690.1" r="3.05"/><circle cx="494.3" cy="681.6" r="3.05"/><circle cx="492.5" cy="685.4" r="3.05"/><circle cx="516.8" cy="672.5" r="3.05"/><circle cx="528.9" cy="674.2" r="3.05"/><circle cx="439" cy="709.8" r="3.05"/><circle cx="452" cy="707.1" r="3.05"/><circle cx="449" cy="708.9" r="3.05"/><circle cx="441.5" cy="707.6" r="3.05"/><circle cx="441.9" cy="696.1" r="3.05"/><circle cx="555" cy="662" r="3.05"/><circle cx="562.2" cy="652.7" r="3.05"/><circle cx="533.1" cy="666.6" r="3.05"/><circle cx="550" cy="663.7" r="3.05"/><circle cx="531.1" cy="668.8" r="3.05"/><circle cx="538.4" cy="665.8" r="3.05"/><circle cx="547.4" cy="661.7" r="3.05"/><circle cx="549.4" cy="664.2" r="3.05"/><circle cx="548.5" cy="664.2" r="3.05"/><circle cx="544.2" cy="658.9" r="3.05"/><circle cx="553.5" cy="663.7" r="3.05"/><circle cx="543.5" cy="664.2" r="3.05"/><circle cx="563.8" cy="658.4" r="3.05"/><circle cx="548" cy="666.3" r="3.05"/><circle cx="539.8" cy="661.3" r="3.05"/><circle cx="561" cy="649.4" r="3.05"/><circle cx="540.4" cy="660.7" r="3.05"/><circle cx="554.4" cy="658" r="3.05"/><circle cx="584.2" cy="634" r="3.05"/><circle cx="601.2" cy="629.2" r="3.05"/><circle cx="549.5" cy="644.7" r="3.05"/><circle cx="623.3" cy="620.3" r="3.05"/><circle cx="617" cy="620.4" r="3.05"/><circle cx="545.6" cy="650.7" r="3.05"/><circle cx="597.1" cy="628.2" r="3.05"/><circle cx="559.2" cy="646.2" r="3.05"/><circle cx="634.2" cy="613.2" r="3.05"/><circle cx="639.3" cy="615.4" r="3.05"/><circle cx="557.7" cy="645.5" r="3.05"/><circle cx="622.6" cy="615.9" r="3.05"/><circle cx="551.6" cy="649.7" r="3.05"/><circle cx="621.9" cy="625.1" r="3.05"/><circle cx="575.5" cy="638.4" r="3.05"/><circle cx="614.4" cy="622.4" r="3.05"/><circle cx="592.6" cy="632.4" r="3.05"/><circle cx="569.7" cy="645.9" r="3.05"/><circle cx="562.9" cy="641.8" r="3.05"/><circle cx="557.2" cy="654.2" r="3.05"/><circle cx="614.6" cy="618" r="3.05"/><circle cx="567.5" cy="642.7" r="3.05"/><circle cx="618.5" cy="622.5" r="3.05"/><circle cx="561.5" cy="653.3" r="3.05"/><circle cx="546" cy="658" r="3.05"/><circle cx="542.6" cy="660.4" r="3.05"/><circle cx="625.9" cy="614.4" r="3.05"/><circle cx="593.8" cy="634.7" r="3.05"/><circle cx="607.1" cy="620.4" r="3.05"/><circle cx="593.5" cy="635.2" r="3.05"/><circle cx="619" cy="622.1" r="3.05"/><circle cx="596.7" cy="630.8" r="3.05"/><circle cx="583.3" cy="639.2" r="3.05"/><circle cx="563.9" cy="641.7" r="3.05"/><circle cx="573" cy="641.6" r="3.05"/><circle cx="587.6" cy="644.3" r="3.05"/><circle cx="626.7" cy="613.7" r="3.05"/><circle cx="616.5" cy="618.2" r="3.05"/><circle cx="620.2" cy="622.5" r="3.05"/><circle cx="638.2" cy="610.5" r="3.05"/><circle cx="602.9" cy="630.5" r="3.05"/><circle cx="553" cy="653.8" r="3.05"/><circle cx="599" cy="637.6" r="3.05"/><circle cx="608.3" cy="620.4" r="3.05"/><circle cx="617.6" cy="628.3" r="3.05"/><circle cx="555.1" cy="652.6" r="3.05"/><circle cx="641.8" cy="616" r="3.05"/><circle cx="560.7" cy="649.9" r="3.05"/><circle cx="550.8" cy="653.4" r="3.05"/><circle cx="608.7" cy="632.5" r="3.05"/><circle cx="567.3" cy="651.7" r="3.05"/><circle cx="606.1" cy="626.1" r="3.05"/><circle cx="633.1" cy="608" r="3.05"/><circle cx="543" cy="650.8" r="3.05"/><circle cx="604.5" cy="629.1" r="3.05"/><circle cx="583.8" cy="637" r="3.05"/><circle cx="608.8" cy="624.3" r="3.05"/><circle cx="592.9" cy="633.9" r="3.05"/><circle cx="621.6" cy="612.7" r="3.05"/><circle cx="636" cy="606.9" r="3.05"/><circle cx="576.1" cy="639.4" r="3.05"/><circle cx="563.7" cy="643.2" r="3.05"/><circle cx="583.8" cy="639.5" r="3.05"/><circle cx="597.8" cy="640.6" r="3.05"/><circle cx="637.5" cy="618.5" r="3.05"/><circle cx="541.7" cy="652.6" r="3.05"/><circle cx="583.8" cy="634.3" r="3.05"/><circle cx="623" cy="618.8" r="3.05"/><circle cx="553.2" cy="652" r="3.05"/><circle cx="594.5" cy="626.7" r="3.05"/><circle cx="544.7" cy="648.9" r="3.05"/><circle cx="582.4" cy="633" r="3.05"/><circle cx="550.9" cy="655.6" r="3.05"/><circle cx="642.1" cy="610" r="3.05"/><circle cx="546.5" cy="652.6" r="3.05"/><circle cx="597.1" cy="629.1" r="3.05"/><circle cx="638.2" cy="611.9" r="3.05"/><circle cx="595.9" cy="633.4" r="3.05"/><circle cx="577.7" cy="632.4" r="3.05"/><circle cx="602.4" cy="629.3" r="3.05"/><circle cx="567.5" cy="649" r="3.05"/><circle cx="579.7" cy="636.3" r="3.05"/><circle cx="598.4" cy="626.2" r="3.05"/><circle cx="640.9" cy="608.6" r="3.05"/><circle cx="581.8" cy="645.1" r="3.05"/><circle cx="623.3" cy="619.3" r="3.05"/><circle cx="615.7" cy="627.6" r="3.05"/><circle cx="561.7" cy="641.7" r="3.05"/><circle cx="603.7" cy="624.8" r="3.05"/><circle cx="559.3" cy="647.3" r="3.05"/><circle cx="577.1" cy="639.7" r="3.05"/><circle cx="629.8" cy="617" r="3.05"/><circle cx="550.9" cy="640.9" r="3.05"/><circle cx="603.4" cy="631.2" r="3.05"/><circle cx="626.2" cy="613.2" r="3.05"/><circle cx="669.8" cy="601.6" r="3.05"/><circle cx="667.4" cy="599.7" r="3.05"/><circle cx="667.3" cy="602.1" r="3.05"/><circle cx="644.9" cy="610.4" r="3.05"/><circle cx="661.8" cy="602" r="3.05"/><circle cx="648" cy="608.8" r="3.05"/><circle cx="193.1" cy="544.7" r="3.05"/><circle cx="179.3" cy="568.2" r="3.05"/><circle cx="187.9" cy="635.7" r="3.05"/><circle cx="204.4" cy="669.4" r="3.05"/><circle cx="200.9" cy="672.6" r="3.05"/><circle cx="188.7" cy="675.5" r="3.05"/><circle cx="191.7" cy="683.4" r="3.05"/><circle cx="195.7" cy="692.8" r="3.05"/><circle cx="198.8" cy="693.4" r="3.05"/><circle cx="206.7" cy="718.6" r="3.05"/><circle cx="214" cy="718.1" r="3.05"/><circle cx="221.8" cy="721.9" r="3.05"/><circle cx="181.2" cy="728.5" r="3.05"/><circle cx="180" cy="756" r="3.05"/><circle cx="173.1" cy="776.7" r="3.05"/><circle cx="176.2" cy="803.7" r="3.05"/><circle cx="183.5" cy="801.3" r="3.05"/><circle cx="186.1" cy="799.9" r="3.05"/><circle cx="185.2" cy="814.1" r="3.05"/><circle cx="191.3" cy="813.3" r="3.05"/><circle cx="333.7" cy="709.4" r="3.05"/><circle cx="354.4" cy="698.9" r="3.05"/><circle cx="385" cy="701.5" r="3.05"/><circle cx="321" cy="728.5" r="3.05"/><circle cx="313.7" cy="732.3" r="3.05"/><circle cx="304.5" cy="742.4" r="3.05"/><circle cx="251.9" cy="734.6" r="3.05"/><circle cx="368" cy="763.3" r="3.05"/><circle cx="415" cy="741" r="3.05"/><circle cx="328" cy="771.5" r="3.05"/><circle cx="308.5" cy="779" r="3.05"/><circle cx="317.5" cy="775.5" r="3.05"/><circle cx="368" cy="717.2" r="3.05"/><circle cx="379.3" cy="715.5" r="3.05"/><circle cx="387.1" cy="712.8" r="3.05"/><circle cx="439.7" cy="618.6" r="3.05"/><circle cx="542.7" cy="628.8" r="3.05"/><circle cx="557.5" cy="634.9" r="3.05"/><circle cx="490.5" cy="644.7" r="3.05"/><circle cx="514.3" cy="647.3" r="3.05"/><circle cx="490.5" cy="657.2" r="3.05"/><circle cx="475.4" cy="704.7" r="3.05"/><circle cx="503.9" cy="692.4" r="3.05"/><circle cx="435.3" cy="728.9" r="3.05"/><circle cx="414.8" cy="741.1" r="3.05"/><circle cx="601" cy="645" r="3.05"/><circle cx="630" cy="592.9" r="3.05"/><circle cx="675.8" cy="591.5" r="3.05"/><circle cx="695.8" cy="587.1" r="3.05"/><circle cx="656.1" cy="600.4" r="3.05"/><circle cx="655.6" cy="605.6" r="3.05"/><circle cx="656.5" cy="614.6" r="3.05"/><circle cx="647.4" cy="609.1" r="3.05"/><circle cx="432.6" cy="683.2" r="3.05"/><circle cx="525" cy="680.6" r="3.05"/>
</g>
<line x1="140" y1="849.8" x2="844.9" y2="534.7" stroke="#f00" stroke-width="2.5"/>
</g>
<path d="M197.1 546.4L222.1 552M205.3 670.3L298.4 629.8M202 672L256 648.4M386.1 664.9L357.4 695.4M329.9 681.8L333.6 705.3M251.9 700.3L218.7 717.2M255.7 736L277.5 741.2M308.8 745.6L337.9 754.3M275.4 762.8L330.6 815.9M325.3 729L374.1 729M184.4 758.6L181.8 788.6M173.1 781.2L168.4 816.4M389.1 702.7L447.9 724.5M418.9 597.4L435.4 617.4M518.9 649.3L526.2 671.4M634.4 590.8L662.2 576" stroke="#000" stroke-width="1.95" fill="none"/>
<g font-size="18.9">
<text transform="translate(231.8 568.7) scale(1.0 1.045)" text-anchor="middle">Brf1</text>
<text transform="translate(172 591.8) scale(1.0 1.045)" text-anchor="middle">Pol3</text>
<text transform="translate(172 621.4) scale(1.0 1.045)" text-anchor="middle">Pol3</text>
<text transform="translate(170.25 656.2) scale(1.0 1.045)" text-anchor="middle">Nrsf</text>
<text transform="translate(244.7 652.4) scale(1.0 1.045)" text-anchor="middle">Nrsf</text>
<text transform="translate(301.85 626.6) scale(1.0 1.045)" text-anchor="middle">Nrsf</text>
<text transform="translate(170.25 690.9) scale(1.0 1.045)" text-anchor="middle">Nrsf</text>
<text transform="translate(238.35 687.6) scale(1.0 1.045)" text-anchor="middle">Nrsf</text>
<text transform="translate(331.85 678.5) scale(1.0 1.045)" text-anchor="middle">Nrsf</text>
<text transform="translate(389.3 661.4) scale(1.0 1.045)" text-anchor="middle">Nrsf</text>
<text transform="translate(387.45 601.7) scale(1.0 1.045)" text-anchor="middle">Znf274</text>
<text transform="translate(170.25 712.2) scale(1.0 1.045)" text-anchor="middle">Nrsf</text>
<text transform="translate(169.75 727.5) scale(1.0 1.045)" text-anchor="middle">Sp2</text>
<text transform="translate(174.1 752.7) scale(1.0 1.045)" text-anchor="middle">Bdp1</text>
<text transform="translate(169.15 832.8) scale(1.0 1.045)" text-anchor="middle">Brf1</text>
<text transform="translate(274.7 703.6) scale(1.0 1.045)" text-anchor="middle">Nrsf</text>
<text transform="translate(239.2 735.3) scale(1.0 1.045)" text-anchor="middle">Nrsf</text>
<text transform="translate(297.05 722.8) scale(1.0 1.045)" text-anchor="middle">Nrsf</text>
<text transform="translate(288.65 757.6) scale(1.0 1.045)" text-anchor="middle">Nrsf</text>
<text transform="translate(247.35 798) scale(1.0 1.045)" text-anchor="middle">Pou5f1sc9081</text>
<text transform="translate(339 832.8) scale(1.0 1.045)" text-anchor="middle">Gata3sc269sc269</text>
<text transform="translate(346.5 771) scale(1.0 1.045)" text-anchor="middle">Batf</text>
<text transform="translate(405.1 735.3) scale(1.0 1.045)" text-anchor="middle">Gata2</text>
<text transform="translate(418.85 697) scale(1.0 1.045)" text-anchor="middle">Mafk</text>
<text transform="translate(465.3 636.9) scale(1.0 1.045)" text-anchor="middle">Znf274</text>
<text transform="translate(586.6 617) scale(1.0 1.045)" text-anchor="middle">Mafksc477</text>
<text transform="translate(477.75 671.8) scale(1.0 1.045)" text-anchor="middle">Mafk</text>
<text transform="translate(451.25 682.3) scale(1.0 1.045)" text-anchor="middle">Usf1</text>
<text transform="translate(579.2 682) scale(1.0 1.045)" text-anchor="middle">Maffm8194</text>
<text transform="translate(482.65 732.2) scale(1.0 1.045)" text-anchor="middle">Znf274</text>
<text transform="translate(691.85 572.3) scale(1.0 1.045)" text-anchor="middle">Mafkab50322</text>
</g>
<path d="M171.9 849.7v6.4M351.4 849.7v6.4M530.9 849.7v6.4M710.4 849.7v6.4M140 835.5h-5.9M140 755.3h-5.9M140 675h-5.9M140 594.8h-5.9" stroke="#000" stroke-width="2" fill="none"/>
<text transform="translate(119.8 847.2) scale(1.0 1.045)" text-anchor="end">0.00</text>
<text transform="translate(171.9 895) scale(1.0 1.045)" text-anchor="middle">0.00</text>
<text transform="translate(119.8 766.98) scale(1.0 1.045)" text-anchor="end">0.25</text>
<text transform="translate(351.4 895) scale(1.0 1.045)" text-anchor="middle">0.25</text>
<text transform="translate(119.8 686.75) scale(1.0 1.045)" text-anchor="end">0.50</text>
<text transform="translate(530.9 895) scale(1.0 1.045)" text-anchor="middle">0.50</text>
<text transform="translate(119.8 606.53) scale(1.0 1.045)" text-anchor="end">0.75</text>
<text transform="translate(710.4 895) scale(1.0 1.045)" text-anchor="middle">0.75</text>
<text transform="translate(492.3 940.1) scale(1.0 1.045)" text-anchor="middle">auPRC [order = 1]</text>
<text transform="translate(28.8 689.5) rotate(-90) scale(1.0 1.045)" text-anchor="middle">auPRC [order = 3]</text>
<text transform="translate(880.6 130.2) scale(1.02 1.045)">Type</text>
<rect x="882.2" y="157.9" width="35.8" height="36" fill="#f2f2f2"/>
<circle cx="900.1" cy="175.9" r="3.7" fill="#F8766D"/>
<text transform="translate(933 188.1) scale(1.0 1.045)">Dnase</text>
<rect x="882.2" y="196.6" width="35.8" height="36" fill="#f2f2f2"/>
<circle cx="900.1" cy="214.6" r="3.7" fill="#00BA38"/>
<text transform="translate(933 226.8) scale(1.0 1.045)">Histone</text>
<rect x="882.2" y="235.3" width="35.8" height="36" fill="#f2f2f2"/>
<circle cx="900.1" cy="253.3" r="3.7" fill="#619CFF"/>
<text transform="translate(933 265.5) scale(1.0 1.045)">Tfbs</text>
<text transform="translate(881.2 636.8) scale(1.02 1.045)">Type</text>
<rect x="882.8" y="664.5" width="35.8" height="36" fill="#f2f2f2"/>
<circle cx="900.7" cy="682.5" r="3.4" fill="#F8766D"/>
<text transform="translate(933.6 694.7) scale(1.0 1.045)">Dnase</text>
<rect x="882.8" y="703.2" width="35.8" height="36" fill="#f2f2f2"/>
<circle cx="900.7" cy="721.2" r="3.4" fill="#00BA38"/>
<text transform="translate(933.6 733.4) scale(1.0 1.045)">Histone</text>
<rect x="882.8" y="741.9" width="35.8" height="36" fill="#f2f2f2"/>
<circle cx="900.7" cy="759.9" r="3.4" fill="#619CFF"/>
<text transform="translate(933.6 772.1) scale(1.0 1.045)">Tfbs</text>
<path d="M1248.1 767.5H1699M1248.1 669.1H1699M1248.1 570.7H1699M1248.1 472.3H1699M1248.1 373.9H1699M1248.1 275.4H1699M1248.1 177H1699M1248.1 78.6H1699M1332.9 41.9V841.6M1473.6 41.9V841.6M1614.4 41.9V841.6" stroke="#d1d1d1" stroke-width="2.0" fill="none"/>
<g fill="#333"><circle cx="1332.9" cy="705.3" r="5.2"/><circle cx="1332.9" cy="708" r="5.2"/><circle cx="1332.9" cy="711" r="5.2"/><circle cx="1332.9" cy="714" r="5.2"/><circle cx="1332.9" cy="717" r="5.2"/><circle cx="1332.9" cy="719.1" r="5.2"/><circle cx="1332.9" cy="751.1" r="5.2"/><circle cx="1332.9" cy="754" r="5.2"/><circle cx="1332.9" cy="757.5" r="5.2"/></g>
<path d="M1332.9 731.2V724M1332.9 739.2V746" stroke="#333" stroke-width="2.1" fill="none"/>
<rect x="1280.2" y="731.2" width="105.5" height="8" fill="#fff" stroke="#333" stroke-width="2.1"/>
<line x1="1280.2" x2="1385.7" y1="735.3" y2="735.3" stroke="#333" stroke-width="4.4"/>
<g fill="#333"><circle cx="1473.6" cy="714.1" r="5.2"/><circle cx="1473.6" cy="717.5" r="5.2"/><circle cx="1473.6" cy="721" r="5.2"/><circle cx="1473.6" cy="725" r="5.2"/><circle cx="1473.6" cy="729" r="5.2"/><circle cx="1473.6" cy="732.9" r="5.2"/></g>
<path d="M1473.6 753.6V737M1473.6 766V779.8" stroke="#333" stroke-width="2.1" fill="none"/>
<rect x="1420.8" y="753.6" width="105.5" height="12.4" fill="#fff" stroke="#333" stroke-width="2.1"/>
<line x1="1420.8" x2="1526.3" y1="759.9" y2="759.9" stroke="#333" stroke-width="4.4"/>
<g fill="#333"><circle cx="1614.4" cy="78" r="5.2"/><circle cx="1614.4" cy="120.9" r="5.2"/><circle cx="1614.4" cy="295.5" r="5.2"/><circle cx="1614.4" cy="394.3" r="5.2"/><circle cx="1614.4" cy="397" r="5.2"/><circle cx="1614.4" cy="400.4" r="5.2"/><circle cx="1614.4" cy="416.1" r="5.2"/><circle cx="1614.4" cy="443.7" r="5.2"/><circle cx="1614.4" cy="448.4" r="5.2"/><circle cx="1614.4" cy="515.8" r="5.2"/><circle cx="1614.4" cy="520.5" r="5.2"/><circle cx="1614.4" cy="527.1" r="5.2"/><circle cx="1614.4" cy="530.8" r="5.2"/><circle cx="1614.4" cy="544.6" r="5.2"/><circle cx="1614.4" cy="582.3" r="5.2"/><circle cx="1614.4" cy="605.5" r="5.2"/><circle cx="1614.4" cy="625.4" r="5.2"/><circle cx="1614.4" cy="633.9" r="5.2"/><circle cx="1614.4" cy="648.7" r="5.2"/><circle cx="1614.4" cy="669" r="5.2"/><circle cx="1614.4" cy="673.4" r="5.2"/><circle cx="1614.4" cy="678.2" r="5.2"/><circle cx="1614.4" cy="681.9" r="5.2"/><circle cx="1614.4" cy="802.7" r="5.2"/><circle cx="1614.4" cy="806" r="5.2"/></g>
<path d="M1614.4 726.4V687.5M1614.4 754.8V795.7" stroke="#333" stroke-width="2.1" fill="none"/>
<rect x="1561.7" y="726.4" width="105.5" height="28.4" fill="#fff" stroke="#333" stroke-width="2.1"/>
<line x1="1561.7" x2="1667.2" y1="741.1" y2="741.1" stroke="#333" stroke-width="4.4"/>
<path d="M1332.9 841.6v6.4M1473.6 841.6v6.4M1614.4 841.6v6.4M1248.1 767.5h-5.9M1248.1 570.7h-5.9M1248.1 373.9h-5.9M1248.1 177h-5.9" stroke="#000" stroke-width="2" fill="none"/>
<text transform="translate(1228.2 778.9) scale(1.0 1.045)" text-anchor="end">0.00</text>
<text transform="translate(1228.2 582.07) scale(1.0 1.045)" text-anchor="end">0.25</text>
<text transform="translate(1228.2 385.25) scale(1.0 1.045)" text-anchor="end">0.50</text>
<text transform="translate(1228.2 188.43) scale(1.0 1.045)" text-anchor="end">0.75</text>
<text transform="translate(1333.1 889.7) scale(1.0 1.045)" text-anchor="middle">Dnase</text>
<text transform="translate(1475.1 889.7) scale(1.0 1.045)" text-anchor="middle">Histone</text>
<text transform="translate(1614.8 889.7) scale(1.0 1.045)" text-anchor="middle">Tfbs</text>
<text transform="translate(1474.5 936.2) scale(1.0 1.045)" text-anchor="middle">Feature classes</text>
<text transform="translate(1141.8 442.6) rotate(-90) scale(1.0 1.045)" text-anchor="middle">Δ auPRC</text>
<g class="pl" font-weight="bold" font-size="42.6">
<text transform="translate(-0.3 23.4) scale(1.0 0.99)">a</text>
<text transform="translate(-0.8 531.2) scale(1.0 0.99)">b</text>
<text transform="translate(1111.5 23.4) scale(1.0 0.99)">c</text>
</g>
</svg>
</body></html>
